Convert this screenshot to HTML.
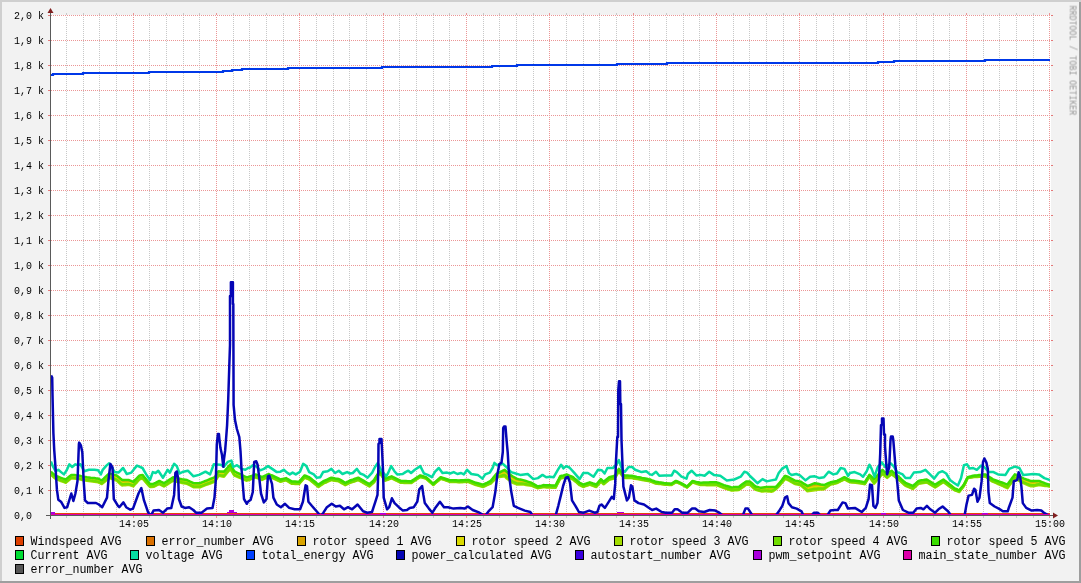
<!DOCTYPE html>
<html><head><meta charset="utf-8"><style>
html,body{margin:0;padding:0;background:#F2F2F2;}
svg{display:block;}
</style></head><body>
<svg width="1081" height="583" viewBox="0 0 1081 583" shape-rendering="crispEdges">
<defs>
<filter id="gray" x="0" y="0" width="100%" height="100%" filterUnits="userSpaceOnUse"><feColorMatrix type="saturate" values="0"/></filter>
<pattern id="hr" patternUnits="userSpaceOnUse" x="1" y="0" width="2" height="1"><rect x="0" y="0" width="1" height="1" fill="#EB9696"/></pattern>
<pattern id="vr" patternUnits="userSpaceOnUse" x="0" y="1" width="1" height="2"><rect x="0" y="0" width="1" height="1" fill="#EB9696"/></pattern>
<pattern id="vg" patternUnits="userSpaceOnUse" x="0" y="1" width="1" height="2"><rect x="0" y="0" width="1" height="1" fill="#C8C8C8"/></pattern>
</defs>
<rect x="0" y="0" width="1081" height="583" fill="#F2F2F2"/>
<rect x="0" y="0" width="1081" height="2" fill="#CFCFCF"/>
<rect x="0" y="0" width="2" height="583" fill="#CFCFCF"/>
<rect x="0" y="581" width="1081" height="2" fill="#9E9E9E"/>
<rect x="1079" y="2" width="2" height="581" fill="#9E9E9E"/>
<rect x="50" y="15" width="1001" height="500" fill="#FFFFFF"/>
<rect x="66" y="16" width="1" height="499" fill="url(#vg)"/>
<rect x="66" y="13" width="1" height="2" fill="#C8C8C8"/>
<rect x="66" y="516" width="1" height="2" fill="#C8C8C8"/>
<rect x="83" y="16" width="1" height="499" fill="url(#vg)"/>
<rect x="83" y="13" width="1" height="2" fill="#C8C8C8"/>
<rect x="83" y="516" width="1" height="2" fill="#C8C8C8"/>
<rect x="99" y="16" width="1" height="499" fill="url(#vg)"/>
<rect x="99" y="13" width="1" height="2" fill="#C8C8C8"/>
<rect x="99" y="516" width="1" height="2" fill="#C8C8C8"/>
<rect x="116" y="16" width="1" height="499" fill="url(#vg)"/>
<rect x="116" y="13" width="1" height="2" fill="#C8C8C8"/>
<rect x="116" y="516" width="1" height="2" fill="#C8C8C8"/>
<rect x="133" y="16" width="1" height="499" fill="url(#vr)"/>
<rect x="133" y="13" width="1" height="2" fill="#EB9696"/>
<rect x="133" y="516" width="1" height="2" fill="#EB9696"/>
<rect x="149" y="16" width="1" height="499" fill="url(#vg)"/>
<rect x="149" y="13" width="1" height="2" fill="#C8C8C8"/>
<rect x="149" y="516" width="1" height="2" fill="#C8C8C8"/>
<rect x="166" y="16" width="1" height="499" fill="url(#vg)"/>
<rect x="166" y="13" width="1" height="2" fill="#C8C8C8"/>
<rect x="166" y="516" width="1" height="2" fill="#C8C8C8"/>
<rect x="183" y="16" width="1" height="499" fill="url(#vg)"/>
<rect x="183" y="13" width="1" height="2" fill="#C8C8C8"/>
<rect x="183" y="516" width="1" height="2" fill="#C8C8C8"/>
<rect x="199" y="16" width="1" height="499" fill="url(#vg)"/>
<rect x="199" y="13" width="1" height="2" fill="#C8C8C8"/>
<rect x="199" y="516" width="1" height="2" fill="#C8C8C8"/>
<rect x="216" y="16" width="1" height="499" fill="url(#vr)"/>
<rect x="216" y="13" width="1" height="2" fill="#EB9696"/>
<rect x="216" y="516" width="1" height="2" fill="#EB9696"/>
<rect x="233" y="16" width="1" height="499" fill="url(#vg)"/>
<rect x="233" y="13" width="1" height="2" fill="#C8C8C8"/>
<rect x="233" y="516" width="1" height="2" fill="#C8C8C8"/>
<rect x="249" y="16" width="1" height="499" fill="url(#vg)"/>
<rect x="249" y="13" width="1" height="2" fill="#C8C8C8"/>
<rect x="249" y="516" width="1" height="2" fill="#C8C8C8"/>
<rect x="266" y="16" width="1" height="499" fill="url(#vg)"/>
<rect x="266" y="13" width="1" height="2" fill="#C8C8C8"/>
<rect x="266" y="516" width="1" height="2" fill="#C8C8C8"/>
<rect x="283" y="16" width="1" height="499" fill="url(#vg)"/>
<rect x="283" y="13" width="1" height="2" fill="#C8C8C8"/>
<rect x="283" y="516" width="1" height="2" fill="#C8C8C8"/>
<rect x="299" y="16" width="1" height="499" fill="url(#vr)"/>
<rect x="299" y="13" width="1" height="2" fill="#EB9696"/>
<rect x="299" y="516" width="1" height="2" fill="#EB9696"/>
<rect x="316" y="16" width="1" height="499" fill="url(#vg)"/>
<rect x="316" y="13" width="1" height="2" fill="#C8C8C8"/>
<rect x="316" y="516" width="1" height="2" fill="#C8C8C8"/>
<rect x="333" y="16" width="1" height="499" fill="url(#vg)"/>
<rect x="333" y="13" width="1" height="2" fill="#C8C8C8"/>
<rect x="333" y="516" width="1" height="2" fill="#C8C8C8"/>
<rect x="349" y="16" width="1" height="499" fill="url(#vg)"/>
<rect x="349" y="13" width="1" height="2" fill="#C8C8C8"/>
<rect x="349" y="516" width="1" height="2" fill="#C8C8C8"/>
<rect x="366" y="16" width="1" height="499" fill="url(#vg)"/>
<rect x="366" y="13" width="1" height="2" fill="#C8C8C8"/>
<rect x="366" y="516" width="1" height="2" fill="#C8C8C8"/>
<rect x="383" y="16" width="1" height="499" fill="url(#vr)"/>
<rect x="383" y="13" width="1" height="2" fill="#EB9696"/>
<rect x="383" y="516" width="1" height="2" fill="#EB9696"/>
<rect x="399" y="16" width="1" height="499" fill="url(#vg)"/>
<rect x="399" y="13" width="1" height="2" fill="#C8C8C8"/>
<rect x="399" y="516" width="1" height="2" fill="#C8C8C8"/>
<rect x="416" y="16" width="1" height="499" fill="url(#vg)"/>
<rect x="416" y="13" width="1" height="2" fill="#C8C8C8"/>
<rect x="416" y="516" width="1" height="2" fill="#C8C8C8"/>
<rect x="433" y="16" width="1" height="499" fill="url(#vg)"/>
<rect x="433" y="13" width="1" height="2" fill="#C8C8C8"/>
<rect x="433" y="516" width="1" height="2" fill="#C8C8C8"/>
<rect x="449" y="16" width="1" height="499" fill="url(#vg)"/>
<rect x="449" y="13" width="1" height="2" fill="#C8C8C8"/>
<rect x="449" y="516" width="1" height="2" fill="#C8C8C8"/>
<rect x="466" y="16" width="1" height="499" fill="url(#vr)"/>
<rect x="466" y="13" width="1" height="2" fill="#EB9696"/>
<rect x="466" y="516" width="1" height="2" fill="#EB9696"/>
<rect x="483" y="16" width="1" height="499" fill="url(#vg)"/>
<rect x="483" y="13" width="1" height="2" fill="#C8C8C8"/>
<rect x="483" y="516" width="1" height="2" fill="#C8C8C8"/>
<rect x="499" y="16" width="1" height="499" fill="url(#vg)"/>
<rect x="499" y="13" width="1" height="2" fill="#C8C8C8"/>
<rect x="499" y="516" width="1" height="2" fill="#C8C8C8"/>
<rect x="516" y="16" width="1" height="499" fill="url(#vg)"/>
<rect x="516" y="13" width="1" height="2" fill="#C8C8C8"/>
<rect x="516" y="516" width="1" height="2" fill="#C8C8C8"/>
<rect x="533" y="16" width="1" height="499" fill="url(#vg)"/>
<rect x="533" y="13" width="1" height="2" fill="#C8C8C8"/>
<rect x="533" y="516" width="1" height="2" fill="#C8C8C8"/>
<rect x="549" y="16" width="1" height="499" fill="url(#vr)"/>
<rect x="549" y="13" width="1" height="2" fill="#EB9696"/>
<rect x="549" y="516" width="1" height="2" fill="#EB9696"/>
<rect x="566" y="16" width="1" height="499" fill="url(#vg)"/>
<rect x="566" y="13" width="1" height="2" fill="#C8C8C8"/>
<rect x="566" y="516" width="1" height="2" fill="#C8C8C8"/>
<rect x="583" y="16" width="1" height="499" fill="url(#vg)"/>
<rect x="583" y="13" width="1" height="2" fill="#C8C8C8"/>
<rect x="583" y="516" width="1" height="2" fill="#C8C8C8"/>
<rect x="599" y="16" width="1" height="499" fill="url(#vg)"/>
<rect x="599" y="13" width="1" height="2" fill="#C8C8C8"/>
<rect x="599" y="516" width="1" height="2" fill="#C8C8C8"/>
<rect x="616" y="16" width="1" height="499" fill="url(#vg)"/>
<rect x="616" y="13" width="1" height="2" fill="#C8C8C8"/>
<rect x="616" y="516" width="1" height="2" fill="#C8C8C8"/>
<rect x="633" y="16" width="1" height="499" fill="url(#vr)"/>
<rect x="633" y="13" width="1" height="2" fill="#EB9696"/>
<rect x="633" y="516" width="1" height="2" fill="#EB9696"/>
<rect x="649" y="16" width="1" height="499" fill="url(#vg)"/>
<rect x="649" y="13" width="1" height="2" fill="#C8C8C8"/>
<rect x="649" y="516" width="1" height="2" fill="#C8C8C8"/>
<rect x="666" y="16" width="1" height="499" fill="url(#vg)"/>
<rect x="666" y="13" width="1" height="2" fill="#C8C8C8"/>
<rect x="666" y="516" width="1" height="2" fill="#C8C8C8"/>
<rect x="683" y="16" width="1" height="499" fill="url(#vg)"/>
<rect x="683" y="13" width="1" height="2" fill="#C8C8C8"/>
<rect x="683" y="516" width="1" height="2" fill="#C8C8C8"/>
<rect x="699" y="16" width="1" height="499" fill="url(#vg)"/>
<rect x="699" y="13" width="1" height="2" fill="#C8C8C8"/>
<rect x="699" y="516" width="1" height="2" fill="#C8C8C8"/>
<rect x="716" y="16" width="1" height="499" fill="url(#vr)"/>
<rect x="716" y="13" width="1" height="2" fill="#EB9696"/>
<rect x="716" y="516" width="1" height="2" fill="#EB9696"/>
<rect x="733" y="16" width="1" height="499" fill="url(#vg)"/>
<rect x="733" y="13" width="1" height="2" fill="#C8C8C8"/>
<rect x="733" y="516" width="1" height="2" fill="#C8C8C8"/>
<rect x="749" y="16" width="1" height="499" fill="url(#vg)"/>
<rect x="749" y="13" width="1" height="2" fill="#C8C8C8"/>
<rect x="749" y="516" width="1" height="2" fill="#C8C8C8"/>
<rect x="766" y="16" width="1" height="499" fill="url(#vg)"/>
<rect x="766" y="13" width="1" height="2" fill="#C8C8C8"/>
<rect x="766" y="516" width="1" height="2" fill="#C8C8C8"/>
<rect x="783" y="16" width="1" height="499" fill="url(#vg)"/>
<rect x="783" y="13" width="1" height="2" fill="#C8C8C8"/>
<rect x="783" y="516" width="1" height="2" fill="#C8C8C8"/>
<rect x="799" y="16" width="1" height="499" fill="url(#vr)"/>
<rect x="799" y="13" width="1" height="2" fill="#EB9696"/>
<rect x="799" y="516" width="1" height="2" fill="#EB9696"/>
<rect x="816" y="16" width="1" height="499" fill="url(#vg)"/>
<rect x="816" y="13" width="1" height="2" fill="#C8C8C8"/>
<rect x="816" y="516" width="1" height="2" fill="#C8C8C8"/>
<rect x="833" y="16" width="1" height="499" fill="url(#vg)"/>
<rect x="833" y="13" width="1" height="2" fill="#C8C8C8"/>
<rect x="833" y="516" width="1" height="2" fill="#C8C8C8"/>
<rect x="849" y="16" width="1" height="499" fill="url(#vg)"/>
<rect x="849" y="13" width="1" height="2" fill="#C8C8C8"/>
<rect x="849" y="516" width="1" height="2" fill="#C8C8C8"/>
<rect x="866" y="16" width="1" height="499" fill="url(#vg)"/>
<rect x="866" y="13" width="1" height="2" fill="#C8C8C8"/>
<rect x="866" y="516" width="1" height="2" fill="#C8C8C8"/>
<rect x="883" y="16" width="1" height="499" fill="url(#vr)"/>
<rect x="883" y="13" width="1" height="2" fill="#EB9696"/>
<rect x="883" y="516" width="1" height="2" fill="#EB9696"/>
<rect x="899" y="16" width="1" height="499" fill="url(#vg)"/>
<rect x="899" y="13" width="1" height="2" fill="#C8C8C8"/>
<rect x="899" y="516" width="1" height="2" fill="#C8C8C8"/>
<rect x="916" y="16" width="1" height="499" fill="url(#vg)"/>
<rect x="916" y="13" width="1" height="2" fill="#C8C8C8"/>
<rect x="916" y="516" width="1" height="2" fill="#C8C8C8"/>
<rect x="933" y="16" width="1" height="499" fill="url(#vg)"/>
<rect x="933" y="13" width="1" height="2" fill="#C8C8C8"/>
<rect x="933" y="516" width="1" height="2" fill="#C8C8C8"/>
<rect x="949" y="16" width="1" height="499" fill="url(#vg)"/>
<rect x="949" y="13" width="1" height="2" fill="#C8C8C8"/>
<rect x="949" y="516" width="1" height="2" fill="#C8C8C8"/>
<rect x="966" y="16" width="1" height="499" fill="url(#vr)"/>
<rect x="966" y="13" width="1" height="2" fill="#EB9696"/>
<rect x="966" y="516" width="1" height="2" fill="#EB9696"/>
<rect x="983" y="16" width="1" height="499" fill="url(#vg)"/>
<rect x="983" y="13" width="1" height="2" fill="#C8C8C8"/>
<rect x="983" y="516" width="1" height="2" fill="#C8C8C8"/>
<rect x="999" y="16" width="1" height="499" fill="url(#vg)"/>
<rect x="999" y="13" width="1" height="2" fill="#C8C8C8"/>
<rect x="999" y="516" width="1" height="2" fill="#C8C8C8"/>
<rect x="1016" y="16" width="1" height="499" fill="url(#vg)"/>
<rect x="1016" y="13" width="1" height="2" fill="#C8C8C8"/>
<rect x="1016" y="516" width="1" height="2" fill="#C8C8C8"/>
<rect x="1033" y="16" width="1" height="499" fill="url(#vg)"/>
<rect x="1033" y="13" width="1" height="2" fill="#C8C8C8"/>
<rect x="1033" y="516" width="1" height="2" fill="#C8C8C8"/>
<rect x="1049" y="16" width="1" height="499" fill="url(#vr)"/>
<rect x="1049" y="13" width="1" height="2" fill="#EB9696"/>
<rect x="1049" y="516" width="1" height="2" fill="#EB9696"/>
<rect x="51" y="515" width="1000" height="1" fill="url(#hr)"/>
<rect x="48" y="515" width="2" height="1" fill="#E57878"/>
<rect x="1051" y="515" width="2" height="1" fill="#E57878"/>
<rect x="51" y="490" width="1000" height="1" fill="url(#hr)"/>
<rect x="48" y="490" width="2" height="1" fill="#E57878"/>
<rect x="1051" y="490" width="2" height="1" fill="#E57878"/>
<rect x="51" y="465" width="1000" height="1" fill="url(#hr)"/>
<rect x="48" y="465" width="2" height="1" fill="#E57878"/>
<rect x="1051" y="465" width="2" height="1" fill="#E57878"/>
<rect x="51" y="440" width="1000" height="1" fill="url(#hr)"/>
<rect x="48" y="440" width="2" height="1" fill="#E57878"/>
<rect x="1051" y="440" width="2" height="1" fill="#E57878"/>
<rect x="51" y="415" width="1000" height="1" fill="url(#hr)"/>
<rect x="48" y="415" width="2" height="1" fill="#E57878"/>
<rect x="1051" y="415" width="2" height="1" fill="#E57878"/>
<rect x="51" y="390" width="1000" height="1" fill="url(#hr)"/>
<rect x="48" y="390" width="2" height="1" fill="#E57878"/>
<rect x="1051" y="390" width="2" height="1" fill="#E57878"/>
<rect x="51" y="365" width="1000" height="1" fill="url(#hr)"/>
<rect x="48" y="365" width="2" height="1" fill="#E57878"/>
<rect x="1051" y="365" width="2" height="1" fill="#E57878"/>
<rect x="51" y="340" width="1000" height="1" fill="url(#hr)"/>
<rect x="48" y="340" width="2" height="1" fill="#E57878"/>
<rect x="1051" y="340" width="2" height="1" fill="#E57878"/>
<rect x="51" y="315" width="1000" height="1" fill="url(#hr)"/>
<rect x="48" y="315" width="2" height="1" fill="#E57878"/>
<rect x="1051" y="315" width="2" height="1" fill="#E57878"/>
<rect x="51" y="290" width="1000" height="1" fill="url(#hr)"/>
<rect x="48" y="290" width="2" height="1" fill="#E57878"/>
<rect x="1051" y="290" width="2" height="1" fill="#E57878"/>
<rect x="51" y="265" width="1000" height="1" fill="url(#hr)"/>
<rect x="48" y="265" width="2" height="1" fill="#E57878"/>
<rect x="1051" y="265" width="2" height="1" fill="#E57878"/>
<rect x="51" y="240" width="1000" height="1" fill="url(#hr)"/>
<rect x="48" y="240" width="2" height="1" fill="#E57878"/>
<rect x="1051" y="240" width="2" height="1" fill="#E57878"/>
<rect x="51" y="215" width="1000" height="1" fill="url(#hr)"/>
<rect x="48" y="215" width="2" height="1" fill="#E57878"/>
<rect x="1051" y="215" width="2" height="1" fill="#E57878"/>
<rect x="51" y="190" width="1000" height="1" fill="url(#hr)"/>
<rect x="48" y="190" width="2" height="1" fill="#E57878"/>
<rect x="1051" y="190" width="2" height="1" fill="#E57878"/>
<rect x="51" y="165" width="1000" height="1" fill="url(#hr)"/>
<rect x="48" y="165" width="2" height="1" fill="#E57878"/>
<rect x="1051" y="165" width="2" height="1" fill="#E57878"/>
<rect x="51" y="140" width="1000" height="1" fill="url(#hr)"/>
<rect x="48" y="140" width="2" height="1" fill="#E57878"/>
<rect x="1051" y="140" width="2" height="1" fill="#E57878"/>
<rect x="51" y="115" width="1000" height="1" fill="url(#hr)"/>
<rect x="48" y="115" width="2" height="1" fill="#E57878"/>
<rect x="1051" y="115" width="2" height="1" fill="#E57878"/>
<rect x="51" y="90" width="1000" height="1" fill="url(#hr)"/>
<rect x="48" y="90" width="2" height="1" fill="#E57878"/>
<rect x="1051" y="90" width="2" height="1" fill="#E57878"/>
<rect x="51" y="65" width="1000" height="1" fill="url(#hr)"/>
<rect x="48" y="65" width="2" height="1" fill="#E57878"/>
<rect x="1051" y="65" width="2" height="1" fill="#E57878"/>
<rect x="51" y="40" width="1000" height="1" fill="url(#hr)"/>
<rect x="48" y="40" width="2" height="1" fill="#E57878"/>
<rect x="1051" y="40" width="2" height="1" fill="#E57878"/>
<rect x="51" y="15" width="1000" height="1" fill="url(#hr)"/>
<rect x="48" y="15" width="2" height="1" fill="#E57878"/>
<rect x="1051" y="15" width="2" height="1" fill="#E57878"/>
<clipPath id="cv"><rect x="51" y="15" width="999" height="500"/></clipPath>
<g clip-path="url(#cv)" shape-rendering="geometricPrecision" fill="none" stroke-linejoin="round" stroke-linecap="butt">
<rect x="51" y="513" width="999" height="1" fill="#E8400A" stroke="none"/>
<polyline points="50.9,472.6 52.5,474.0 54.0,475.4 55.6,476.7 57.5,477.4 59.3,478.2 60.9,478.7 62.5,479.3 64.1,479.9 65.7,480.5 67.6,479.0 69.4,477.4 71.3,475.9 72.9,476.0 74.5,476.2 76.2,476.3 77.8,476.4 79.6,476.9 81.5,477.3 83.3,477.7 85.2,478.0 87.0,478.3 88.8,478.5 90.7,478.8 92.5,479.0 94.4,479.2 96.2,479.5 98.1,479.7 99.9,480.6 101.8,481.5 103.7,479.8 105.5,478.2 107.3,476.5 109.2,474.8 111.0,475.4 112.9,475.9 114.8,476.4 116.6,477.0 118.5,478.6 120.3,480.1 122.2,481.6 123.8,481.6 125.4,481.5 127.0,481.5 128.6,481.5 130.2,482.0 131.7,482.6 133.3,483.1 134.9,481.5 136.5,479.9 138.1,478.2 139.7,476.6 142.5,476.0 144.0,477.8 145.5,479.6 147.0,481.3 148.5,483.1 150.0,484.9 151.8,484.8 153.7,484.6 155.6,483.7 157.4,482.8 159.3,481.9 160.8,482.6 162.4,483.4 163.9,484.2 165.4,483.2 167.0,482.2 168.5,481.2 170.0,480.2 171.6,479.3 173.1,478.3 175.0,478.7 176.8,479.2 178.7,479.7 180.4,480.0 182.0,480.3 183.7,480.6 185.3,480.9 187.0,481.2 188.6,482.0 190.2,482.8 191.9,483.6 193.5,484.4 195.1,484.4 196.8,484.4 198.4,484.4 200.0,484.5 201.8,483.7 203.7,482.9 205.5,482.2 207.1,481.6 208.6,481.0 210.2,480.4 211.7,479.8 213.2,479.2 214.8,478.6 216.7,475.6 218.5,472.6 220.3,472.8 222.2,473.0 224.0,473.2 225.6,471.3 227.2,469.4 228.9,467.5 230.5,465.7 232.3,469.1 234.2,472.5 235.8,473.3 237.4,474.0 239.1,474.8 240.7,475.6 242.5,476.4 244.4,477.3 246.2,478.2 248.1,477.8 250.0,477.5 251.9,476.7 253.7,476.0 255.6,475.3 257.2,476.0 258.8,476.7 260.4,477.4 262.0,478.1 263.6,477.2 265.2,476.4 266.9,475.6 268.5,474.8 270.4,475.5 272.2,476.3 274.1,477.0 275.7,477.8 277.3,478.6 278.9,479.4 280.5,480.2 282.4,479.7 284.2,479.3 286.1,478.8 287.9,479.9 289.8,481.0 291.6,482.1 293.5,482.2 295.3,482.3 297.1,482.4 299.0,482.5 300.9,480.4 302.7,478.2 304.6,476.1 306.1,476.7 307.7,477.3 309.2,477.9 310.8,479.1 312.3,480.4 313.9,481.6 315.4,482.8 316.9,484.1 318.5,485.3 320.3,484.1 322.2,482.8 324.0,481.6 325.9,480.8 327.7,480.0 329.5,479.2 331.4,478.4 333.2,478.7 335.1,479.1 336.9,479.4 338.8,479.7 340.4,480.7 342.1,481.6 343.7,482.6 345.3,483.5 346.9,482.7 348.4,482.0 350.0,481.2 351.7,480.7 353.3,480.1 355.0,479.5 356.6,479.0 358.3,478.4 360.2,479.5 362.0,480.6 363.9,481.6 365.7,482.7 367.6,483.8 369.4,484.8 371.0,483.4 372.5,482.1 374.1,480.7 375.9,477.6 377.8,474.5 379.6,471.4 381.5,474.0 383.3,476.6 385.2,479.2 386.8,478.7 388.4,478.1 390.0,477.5 391.6,476.9 393.2,477.7 394.7,478.4 396.2,479.2 397.8,479.9 399.3,480.7 400.9,481.5 402.6,481.5 404.3,481.6 406.0,481.7 407.7,481.8 409.4,481.8 411.1,481.9 412.6,480.9 414.2,479.9 415.7,478.9 417.2,477.9 418.8,476.9 420.3,475.9 422.2,476.4 424.0,477.0 425.9,477.6 427.8,479.2 429.6,480.9 431.4,482.5 433.3,484.1 435.1,482.5 437.0,480.9 438.9,479.3 440.7,477.6 442.2,478.1 443.8,478.7 445.4,479.2 446.9,479.7 448.4,480.2 450.0,480.7 451.6,480.7 453.1,480.8 454.6,480.8 456.2,480.9 457.8,480.9 459.3,481.0 460.8,480.9 462.4,480.8 463.9,480.8 465.4,480.7 467.0,480.7 468.5,480.6 470.4,481.3 472.2,482.0 474.0,482.7 475.9,483.5 477.8,483.9 479.6,484.4 481.4,484.8 483.3,485.3 485.1,484.4 487.0,483.5 488.9,482.6 490.7,481.7 492.6,479.5 494.4,477.3 496.3,475.2 498.0,474.4 499.6,473.7 501.3,473.1 502.9,472.4 504.6,471.7 506.2,473.2 507.9,474.6 509.5,475.9 511.1,477.3 512.9,478.4 514.8,479.4 516.6,480.3 518.5,480.7 520.3,481.0 522.1,481.3 524.0,481.7 525.9,482.2 527.7,482.7 529.5,483.2 531.4,483.7 533.0,484.5 534.6,485.4 536.3,486.2 537.9,487.0 539.7,486.6 541.6,486.2 543.4,485.7 545.0,485.8 546.7,485.8 548.4,485.9 550.0,486.0 551.9,486.1 553.7,486.1 555.6,486.2 557.1,483.1 558.7,480.1 560.2,477.0 561.8,476.5 563.5,476.1 565.1,475.6 566.7,475.1 568.3,475.8 569.9,476.5 571.5,477.2 573.1,477.9 574.7,479.3 576.4,480.7 578.0,482.1 579.6,483.5 581.5,484.4 583.3,485.3 584.9,484.7 586.5,484.2 588.2,483.6 589.8,483.0 591.4,483.6 593.0,484.2 594.7,484.8 596.3,485.3 597.8,483.5 599.4,481.7 600.9,479.8 603.7,482.5 605.5,481.0 607.4,479.5 609.2,477.9 611.1,477.5 612.9,477.0 614.8,476.5 616.8,473.1 618.9,469.6 620.6,471.8 622.3,474.0 624.0,476.1 625.9,476.2 627.7,476.3 629.5,476.4 631.4,476.5 633.2,476.8 635.1,477.1 636.9,477.5 638.8,477.8 640.4,478.1 642.0,478.5 643.6,478.8 645.2,479.1 646.8,479.4 648.4,479.7 650.0,480.0 651.9,480.8 653.7,481.6 655.6,482.3 657.3,482.5 659.0,482.8 660.7,483.0 662.3,483.2 664.0,483.4 665.7,483.6 667.6,483.8 669.4,484.0 671.3,484.1 672.8,483.2 674.4,482.2 675.9,481.3 677.4,481.9 679.0,482.5 680.5,483.1 682.1,484.1 683.8,485.0 685.4,485.9 687.0,486.8 688.9,485.0 690.7,483.2 692.6,481.3 694.5,481.9 696.3,482.4 698.1,482.9 700.0,483.4 701.7,483.4 703.4,483.4 705.0,483.3 706.7,483.3 708.4,483.2 710.1,483.2 711.7,483.2 713.4,483.2 715.0,483.2 716.6,483.2 718.5,483.9 720.3,484.6 722.1,485.3 724.0,486.0 725.9,486.6 727.7,487.2 729.5,487.8 731.4,488.3 733.2,488.2 735.1,488.1 736.9,488.0 738.8,487.9 740.6,486.5 742.5,485.1 744.4,483.8 746.2,482.4 748.1,482.5 750.0,482.6 751.9,484.3 753.7,485.9 755.6,487.5 757.4,488.0 759.3,488.4 761.1,488.9 763.0,488.7 764.8,488.4 766.7,488.2 768.2,488.3 769.8,488.3 771.3,488.4 772.8,488.3 774.4,487.9 775.9,487.6 777.8,485.6 779.6,483.6 781.5,481.3 783.3,479.0 785.2,476.8 787.0,477.5 788.9,478.2 790.7,479.3 792.6,480.3 794.4,481.4 796.0,481.8 797.6,482.1 799.3,482.5 800.9,482.9 802.5,484.1 804.1,485.2 805.8,486.4 807.4,487.6 809.2,487.0 811.1,486.4 812.9,485.9 814.8,485.3 816.3,485.5 817.9,485.6 819.4,485.8 820.9,486.0 822.5,486.2 824.0,486.3 825.6,485.5 827.2,484.7 828.9,483.8 830.5,483.0 832.1,482.6 833.8,482.3 835.4,481.9 837.0,481.6 838.9,480.6 840.7,479.7 842.5,478.8 844.4,477.8 846.3,478.8 848.1,479.8 850.0,480.8 851.9,481.0 853.7,481.2 855.5,481.3 857.4,481.5 859.2,481.8 861.1,482.2 862.9,482.5 864.8,482.9 866.3,480.4 867.9,477.9 869.4,475.4 871.0,477.1 872.5,478.8 874.1,480.4 875.8,478.5 877.4,476.7 879.1,474.8 880.7,472.9 882.4,471.0 883.9,472.4 885.5,473.8 887.0,475.2 888.5,474.0 890.1,472.9 891.6,471.8 893.2,473.1 894.9,474.5 896.5,475.9 898.1,477.2 900.0,478.8 901.8,480.4 903.6,482.1 905.5,483.7 907.4,484.5 909.2,485.3 911.0,486.1 912.9,486.9 914.8,485.2 916.6,483.5 918.5,481.8 920.2,481.5 921.8,481.2 923.5,480.9 925.1,480.7 926.8,480.4 928.5,481.4 930.1,482.4 931.8,483.4 933.4,484.5 935.1,485.5 936.8,484.5 938.4,483.4 940.1,482.4 941.7,481.3 943.4,480.3 945.0,481.5 946.7,482.8 948.4,484.0 950.0,485.3 951.5,486.5 953.1,487.7 954.6,488.9 956.2,489.5 957.7,490.1 959.3,490.7 960.8,488.8 962.4,486.9 963.9,485.0 965.8,481.3 967.6,477.5 969.4,477.1 971.3,476.6 973.1,476.2 974.6,476.1 976.1,475.9 977.6,475.8 979.2,475.6 980.7,475.5 982.2,475.3 983.7,475.2 985.2,475.0 987.1,476.2 988.9,477.4 990.8,478.7 992.6,479.9 994.5,480.6 996.3,481.3 998.1,482.0 1000.0,482.7 1001.9,483.4 1003.7,484.2 1005.5,484.9 1007.4,485.7 1009.2,483.2 1011.1,480.6 1012.9,478.1 1014.8,475.6 1016.3,476.4 1017.9,477.1 1019.4,477.8 1020.9,478.6 1022.5,479.3 1024.0,480.0 1025.6,480.7 1027.2,481.3 1028.9,481.9 1030.5,482.5 1032.2,482.5 1033.8,482.5 1035.5,482.4 1037.1,482.3 1038.8,482.1 1040.4,482.6 1042.0,483.1 1043.6,483.6 1045.2,484.1 1046.8,484.6 1048.4,485.0 1050.0,485.5" stroke="#D9A400" stroke-width="2.5"/>
<polyline points="50.9,473.4 52.5,474.7 54.0,476.1 55.6,477.5 57.5,478.2 59.3,478.9 60.9,479.5 62.5,480.1 64.1,480.7 65.7,481.3 67.6,479.8 69.4,478.3 71.3,476.7 72.9,476.9 74.5,477.0 76.2,477.2 77.8,477.3 79.6,477.7 81.5,478.2 83.3,478.6 85.2,478.9 87.0,479.1 88.8,479.4 90.7,479.7 92.5,479.9 94.4,480.1 96.2,480.4 98.1,480.6 99.9,481.5 101.8,482.4 103.7,480.8 105.5,479.2 107.3,477.6 109.2,476.0 111.0,476.5 112.9,477.1 114.8,477.7 116.6,478.3 118.5,479.9 120.3,481.5 122.2,483.0 123.8,482.9 125.4,482.8 127.0,482.8 128.6,482.7 130.2,483.2 131.7,483.7 133.3,484.3 134.9,482.6 136.5,480.9 138.1,479.2 139.7,477.5 142.5,476.9 144.0,478.7 145.5,480.4 147.0,482.2 148.5,483.9 150.0,485.6 151.8,485.5 153.7,485.4 155.6,484.5 157.4,483.6 159.3,482.7 160.8,483.5 162.4,484.2 163.9,485.0 165.4,484.0 167.0,483.1 168.5,482.1 170.0,481.1 171.6,480.1 173.1,479.1 175.0,479.6 176.8,480.1 178.7,480.6 180.4,480.9 182.0,481.2 183.7,481.5 185.3,481.8 187.0,482.1 188.6,482.9 190.2,483.8 191.9,484.6 193.5,485.4 195.1,485.4 196.8,485.5 198.4,485.5 200.0,485.5 201.8,484.7 203.7,484.0 205.5,483.3 207.1,482.7 208.6,482.1 210.2,481.5 211.7,480.9 213.2,480.3 214.8,479.7 216.7,476.7 218.5,473.7 220.3,474.0 222.2,474.2 224.0,474.4 225.6,472.5 227.2,470.6 228.9,468.7 230.5,466.8 232.3,470.2 234.2,473.6 235.8,474.3 237.4,475.0 239.1,475.8 240.7,476.5 242.5,477.4 244.4,478.2 246.2,479.1 248.1,478.7 250.0,478.3 251.9,477.5 253.7,476.8 255.6,476.1 257.2,476.7 258.8,477.4 260.4,478.1 262.0,478.8 263.6,477.9 265.2,477.1 266.9,476.3 268.5,475.5 270.4,476.2 272.2,476.9 274.1,477.7 275.7,478.4 277.3,479.2 278.9,480.0 280.5,480.8 282.4,480.3 284.2,479.8 286.1,479.4 287.9,480.5 289.8,481.6 291.6,482.7 293.5,482.8 295.3,482.9 297.1,483.0 299.0,483.1 300.9,480.9 302.7,478.8 304.6,476.7 306.1,477.3 307.7,477.9 309.2,478.5 310.8,479.7 312.3,481.0 313.9,482.2 315.4,483.4 316.9,484.7 318.5,485.9 320.3,484.7 322.2,483.4 324.0,482.2 325.9,481.4 327.7,480.6 329.5,479.8 331.4,479.0 333.2,479.3 335.1,479.6 336.9,480.0 338.8,480.3 340.4,481.3 342.1,482.2 343.7,483.2 345.3,484.1 346.9,483.3 348.4,482.6 350.0,481.8 351.7,481.2 353.3,480.7 355.0,480.1 356.6,479.6 358.3,479.0 360.2,480.1 362.0,481.1 363.9,482.2 365.7,483.3 367.6,484.4 369.4,485.4 371.0,484.0 372.5,482.7 374.1,481.3 375.9,478.2 377.8,475.0 379.6,471.9 381.5,474.5 383.3,477.2 385.2,479.8 386.8,479.2 388.4,478.6 390.0,478.0 391.6,477.4 393.2,478.2 394.7,478.9 396.2,479.7 397.8,480.4 399.3,481.2 400.9,481.9 402.6,482.0 404.3,482.1 406.0,482.1 407.7,482.2 409.4,482.3 411.1,482.3 412.6,481.3 414.2,480.3 415.7,479.3 417.2,478.3 418.8,477.3 420.3,476.2 422.2,476.8 424.0,477.4 425.9,478.0 427.8,479.6 429.6,481.2 431.4,482.8 433.3,484.4 435.1,482.8 437.0,481.2 438.9,479.6 440.7,478.0 442.2,478.5 443.8,479.0 445.4,479.6 446.9,480.1 448.4,480.6 450.0,481.1 451.6,481.2 453.1,481.2 454.6,481.3 456.2,481.3 457.8,481.4 459.3,481.4 460.8,481.4 462.4,481.3 463.9,481.3 465.4,481.2 467.0,481.2 468.5,481.1 470.4,481.8 472.2,482.6 474.0,483.3 475.9,484.0 477.8,484.5 479.6,485.0 481.4,485.4 483.3,485.9 485.1,485.0 487.0,484.1 488.9,483.2 490.7,482.4 492.6,480.3 494.4,478.2 496.3,476.1 498.0,475.5 499.6,474.9 501.3,474.4 502.9,473.8 504.6,473.3 506.2,474.9 507.9,476.2 509.5,477.6 511.1,478.9 512.9,479.9 514.8,480.9 516.6,481.8 518.5,482.0 520.3,482.3 522.1,482.5 524.0,482.7 525.9,483.1 527.7,483.6 529.5,484.0 531.4,484.4 533.0,485.2 534.6,485.9 536.3,486.7 537.9,487.5 539.7,487.1 541.6,486.6 543.4,486.2 545.0,486.3 546.7,486.4 548.4,486.5 550.0,486.6 551.9,486.6 553.7,486.7 555.6,486.8 557.1,483.7 558.7,480.6 560.2,477.6 561.8,477.1 563.5,476.6 565.1,476.2 566.7,475.7 568.3,476.4 569.9,477.1 571.5,477.8 573.1,478.5 574.7,479.9 576.4,481.3 578.0,482.7 579.6,484.1 581.5,485.0 583.3,485.9 584.9,485.3 586.5,484.8 588.2,484.2 589.8,483.6 591.4,484.2 593.0,484.8 594.7,485.4 596.3,485.9 597.8,484.1 599.4,482.3 600.9,480.4 603.7,483.1 605.5,481.6 607.4,480.1 609.2,478.6 611.1,478.1 612.9,477.6 614.8,477.2 616.8,473.7 618.9,470.3 620.6,472.4 622.3,474.6 624.0,476.7 625.9,476.8 627.7,476.9 629.5,477.0 631.4,477.0 633.2,477.4 635.1,477.7 636.9,478.0 638.8,478.3 640.4,478.7 642.0,479.0 643.6,479.3 645.2,479.6 646.8,479.9 648.4,480.2 650.0,480.5 651.9,481.2 653.7,482.0 655.6,482.7 657.3,482.9 659.0,483.2 660.7,483.4 662.3,483.6 664.0,483.8 665.7,484.0 667.6,484.2 669.4,484.3 671.3,484.4 672.8,483.5 674.4,482.5 675.9,481.6 677.4,482.2 679.0,482.8 680.5,483.4 682.1,484.3 683.8,485.2 685.4,486.1 687.0,487.1 688.9,485.3 690.7,483.5 692.6,481.7 694.5,482.3 696.3,482.9 698.1,483.4 700.0,484.0 701.7,484.0 703.4,484.0 705.0,484.0 706.7,484.0 708.4,483.9 710.1,483.9 711.7,483.9 713.4,483.9 715.0,483.9 716.6,483.9 718.5,484.6 720.3,485.3 722.1,486.0 724.0,486.8 725.9,487.4 727.7,487.9 729.5,488.5 731.4,489.1 733.2,489.0 735.1,488.9 736.9,488.8 738.8,488.7 740.6,487.3 742.5,485.9 744.4,484.6 746.2,483.2 748.1,483.3 750.0,483.5 751.9,485.1 753.7,486.7 755.6,488.4 757.4,488.8 759.3,489.3 761.1,489.8 763.0,489.6 764.8,489.5 766.7,489.3 768.2,489.4 769.8,489.5 771.3,489.6 772.8,489.4 774.4,488.8 775.9,488.2 777.8,486.2 779.6,484.3 781.5,482.0 783.3,479.8 785.2,477.6 787.0,478.3 788.9,479.0 790.7,480.1 792.6,481.2 794.4,482.3 796.0,482.6 797.6,483.0 799.3,483.4 800.9,483.8 802.5,485.1 804.1,486.4 805.8,487.6 807.4,488.9 809.2,488.4 811.1,488.0 812.9,487.5 814.8,487.1 816.3,487.1 817.9,487.1 819.4,487.2 820.9,487.2 822.5,487.3 824.0,487.4 825.6,486.4 827.2,485.5 828.9,484.5 830.5,483.6 832.1,483.2 833.8,482.8 835.4,482.5 837.0,482.1 838.9,481.2 840.7,480.2 842.5,479.3 844.4,478.4 846.3,479.4 848.1,480.3 850.0,481.3 851.9,481.5 853.7,481.7 855.5,481.8 857.4,482.0 859.2,482.3 861.1,482.6 862.9,483.0 864.8,483.3 866.3,480.8 867.9,478.4 869.4,475.9 871.0,477.8 872.5,479.7 874.1,481.6 875.8,479.7 877.4,477.8 879.1,475.9 880.7,474.0 882.4,472.1 883.9,473.4 885.5,474.8 887.0,476.1 888.5,475.0 890.1,473.8 891.6,472.7 893.2,474.0 894.9,475.3 896.5,476.7 898.1,478.0 900.0,479.6 901.8,481.2 903.6,482.8 905.5,484.4 907.4,485.2 909.2,486.0 911.0,486.8 912.9,487.6 914.8,485.9 916.6,484.2 918.5,482.5 920.2,482.2 921.8,482.0 923.5,481.7 925.1,481.4 926.8,481.1 928.5,482.1 930.1,483.1 931.8,484.2 933.4,485.2 935.1,486.2 936.8,485.2 938.4,484.1 940.1,483.1 941.7,482.0 943.4,480.9 945.0,482.2 946.7,483.4 948.4,484.6 950.0,485.8 951.5,487.0 953.1,488.2 954.6,489.4 956.2,490.0 957.7,490.6 959.3,491.2 960.8,489.2 962.4,487.3 963.9,485.3 965.8,481.5 967.6,477.8 969.4,477.3 971.3,476.9 973.1,476.5 974.6,476.4 976.1,476.3 977.6,476.2 979.2,476.0 980.7,475.9 982.2,475.8 983.7,475.7 985.2,475.5 987.1,476.8 988.9,478.0 990.8,479.3 992.6,480.5 994.5,481.2 996.3,482.0 998.1,482.7 1000.0,483.4 1001.9,484.2 1003.7,485.0 1005.5,485.8 1007.4,486.6 1009.2,484.1 1011.1,481.6 1012.9,479.1 1014.8,476.7 1016.3,477.4 1017.9,478.2 1019.4,479.0 1020.9,479.7 1022.5,480.5 1024.0,481.2 1025.6,481.9 1027.2,482.5 1028.9,483.2 1030.5,483.8 1032.2,483.9 1033.8,483.9 1035.5,483.6 1037.1,483.4 1038.8,483.2 1040.4,483.6 1042.0,484.0 1043.6,484.3 1045.2,484.7 1046.8,485.1 1048.4,485.5 1050.0,485.9" stroke="#DADA00" stroke-width="2.5"/>
<polyline points="50.9,474.7 52.5,476.1 54.0,477.5 55.6,478.9 57.5,479.6 59.3,480.4 60.9,481.0 62.5,481.6 64.1,482.2 65.7,482.8 67.6,481.3 69.4,479.8 71.3,478.3 72.9,478.4 74.5,478.5 76.2,478.7 77.8,478.8 79.6,479.3 81.5,479.7 83.3,480.2 85.2,480.5 87.0,480.7 88.8,481.0 90.7,481.3 92.5,481.5 94.4,481.8 96.2,482.0 98.1,482.3 99.9,483.2 101.8,484.1 103.7,482.6 105.5,481.0 107.3,479.5 109.2,478.0 111.0,478.6 112.9,479.3 114.8,480.0 116.6,480.6 118.5,482.3 120.3,484.1 122.2,485.4 123.8,485.3 125.4,485.2 127.0,485.0 128.6,484.9 130.2,485.3 131.7,485.8 133.3,486.3 134.9,484.5 136.5,482.8 138.1,481.0 139.7,479.3 142.5,478.6 144.0,480.2 145.5,481.9 147.0,483.6 148.5,485.3 150.0,487.0 151.8,486.9 153.7,486.8 155.6,485.9 157.4,485.0 159.3,484.1 160.8,484.9 162.4,485.7 163.9,486.5 165.4,485.6 167.0,484.6 168.5,483.6 170.0,482.7 171.6,481.7 173.1,480.7 175.0,481.2 176.8,481.8 178.7,482.3 180.4,482.6 182.0,482.9 183.7,483.2 185.3,483.5 187.0,483.9 188.6,484.7 190.2,485.5 191.9,486.4 193.5,487.2 195.1,487.3 196.8,487.3 198.4,487.3 200.0,487.4 201.8,486.6 203.7,485.9 205.5,485.2 207.1,484.6 208.6,484.0 210.2,483.5 211.7,482.9 213.2,482.3 214.8,481.7 216.7,478.8 218.5,475.8 220.3,476.1 222.2,476.4 224.0,476.7 225.6,474.7 227.2,472.8 228.9,470.8 230.5,468.9 232.3,472.2 234.2,475.5 235.8,476.2 237.4,476.9 239.1,477.6 240.7,478.2 242.5,479.1 244.4,479.9 246.2,480.7 248.1,480.2 250.0,479.7 251.9,478.9 253.7,478.2 255.6,477.4 257.2,478.1 258.8,478.7 260.4,479.4 262.0,480.0 263.6,479.2 265.2,478.4 266.9,477.5 268.5,476.7 270.4,477.4 272.2,478.1 274.1,478.8 275.7,479.5 277.3,480.3 278.9,481.0 280.5,481.8 282.4,481.3 284.2,480.9 286.1,480.4 287.9,481.5 289.8,482.6 291.6,483.7 293.5,483.8 295.3,483.9 297.1,484.0 299.0,484.1 300.9,482.0 302.7,479.9 304.6,477.7 306.1,478.3 307.7,478.9 309.2,479.5 310.8,480.8 312.3,482.0 313.9,483.2 315.4,484.5 316.9,485.7 318.5,486.9 320.3,485.7 322.2,484.5 324.0,483.2 325.9,482.5 327.7,481.7 329.5,480.9 331.4,480.1 333.2,480.4 335.1,480.7 336.9,481.0 338.8,481.4 340.4,482.3 342.1,483.3 343.7,484.2 345.3,485.2 346.9,484.4 348.4,483.6 350.0,482.9 351.7,482.3 353.3,481.8 355.0,481.2 356.6,480.6 358.3,480.1 360.2,481.2 362.0,482.2 363.9,483.3 365.7,484.4 367.6,485.4 369.4,486.5 371.0,485.1 372.5,483.7 374.1,482.3 375.9,479.2 377.8,476.1 379.6,472.9 381.5,475.5 383.3,478.1 385.2,480.7 386.8,480.1 388.4,479.5 390.0,478.9 391.6,478.3 393.2,479.1 394.7,479.8 396.2,480.5 397.8,481.3 399.3,482.0 400.9,482.8 402.6,482.8 404.3,482.9 406.0,482.9 407.7,483.0 409.4,483.0 411.1,483.1 412.6,482.1 414.2,481.0 415.7,480.0 417.2,479.0 418.8,478.0 420.3,476.9 422.2,477.5 424.0,478.1 425.9,478.6 427.8,480.2 429.6,481.8 431.4,483.4 433.3,485.0 435.1,483.4 437.0,481.8 438.9,480.2 440.7,478.7 442.2,479.2 443.8,479.7 445.4,480.3 446.9,480.8 448.4,481.3 450.0,481.9 451.6,481.9 453.1,482.0 454.6,482.1 456.2,482.1 457.8,482.2 459.3,482.3 460.8,482.2 462.4,482.2 463.9,482.1 465.4,482.1 467.0,482.1 468.5,482.0 470.4,482.8 472.2,483.5 474.0,484.3 475.9,485.0 477.8,485.5 479.6,486.0 481.4,486.5 483.3,487.0 485.1,486.1 487.0,485.2 488.9,484.3 490.7,483.6 492.6,481.7 494.4,479.8 496.3,477.9 498.0,477.4 499.6,477.0 501.3,476.8 502.9,476.5 504.6,476.2 506.2,477.9 507.9,479.2 509.5,480.5 511.1,481.8 512.9,482.8 514.8,483.7 516.6,484.4 518.5,484.5 520.3,484.5 522.1,484.6 524.0,484.6 525.9,484.9 527.7,485.2 529.5,485.4 531.4,485.7 533.0,486.4 534.6,487.0 536.3,487.7 537.9,488.3 539.7,487.9 541.6,487.5 543.4,487.1 545.0,487.2 546.7,487.4 548.4,487.5 550.0,487.6 551.9,487.7 553.7,487.7 555.6,487.8 557.1,484.8 558.7,481.7 560.2,478.6 561.8,478.2 563.5,477.7 565.1,477.2 566.7,476.7 568.3,477.5 569.9,478.2 571.5,478.9 573.1,479.6 574.7,481.0 576.4,482.4 578.0,483.8 579.6,485.2 581.5,486.1 583.3,487.0 584.9,486.4 586.5,485.9 588.2,485.3 589.8,484.7 591.4,485.3 593.0,485.9 594.7,486.5 596.3,487.0 597.8,485.2 599.4,483.4 600.9,481.5 603.7,484.3 605.5,482.7 607.4,481.2 609.2,479.7 611.1,479.2 612.9,478.7 614.8,478.3 616.8,474.8 618.9,471.4 620.6,473.6 622.3,475.7 624.0,477.8 625.9,477.9 627.7,477.9 629.5,478.0 631.4,478.0 633.2,478.4 635.1,478.7 636.9,479.0 638.8,479.3 640.4,479.6 642.0,479.9 643.6,480.2 645.2,480.5 646.8,480.7 648.4,481.0 650.0,481.3 651.9,482.1 653.7,482.8 655.6,483.5 657.3,483.7 659.0,483.9 660.7,484.1 662.3,484.3 664.0,484.5 665.7,484.7 667.6,484.8 669.4,484.9 671.3,485.1 672.8,484.1 674.4,483.1 675.9,482.1 677.4,482.7 679.0,483.3 680.5,483.9 682.1,484.8 683.8,485.7 685.4,486.6 687.0,487.5 688.9,485.8 690.7,484.1 692.6,482.4 694.5,483.0 696.3,483.7 698.1,484.3 700.0,484.9 701.7,485.0 703.4,485.1 705.0,485.1 706.7,485.2 708.4,485.2 710.1,485.1 711.7,485.2 713.4,485.2 715.0,485.2 716.6,485.2 718.5,485.9 720.3,486.7 722.1,487.4 724.0,488.1 725.9,488.7 727.7,489.3 729.5,489.9 731.4,490.5 733.2,490.4 735.1,490.3 736.9,490.2 738.8,490.1 740.6,488.8 742.5,487.4 744.4,486.1 746.2,484.7 748.1,484.8 750.0,485.0 751.9,486.6 753.7,488.3 755.6,489.9 757.4,490.4 759.3,490.9 761.1,491.4 763.0,491.4 764.8,491.3 766.7,491.2 768.2,491.4 769.8,491.6 771.3,491.8 772.8,491.4 774.4,490.3 775.9,489.2 777.8,487.3 779.6,485.5 781.5,483.3 783.3,481.2 785.2,479.0 787.0,479.7 788.9,480.5 790.7,481.6 792.6,482.7 794.4,483.8 796.0,484.2 797.6,484.6 799.3,484.9 800.9,485.5 802.5,486.9 804.1,488.4 805.8,489.8 807.4,491.2 809.2,491.0 811.1,490.7 812.9,490.5 814.8,490.2 816.3,490.0 817.9,489.8 819.4,489.6 820.9,489.5 822.5,489.4 824.0,489.2 825.6,488.1 827.2,486.9 828.9,485.8 830.5,484.6 832.1,484.2 833.8,483.9 835.4,483.5 837.0,483.1 838.9,482.2 840.7,481.2 842.5,480.3 844.4,479.3 846.3,480.3 848.1,481.3 850.0,482.2 851.9,482.4 853.7,482.6 855.5,482.7 857.4,482.9 859.2,483.2 861.1,483.5 862.9,483.8 864.8,484.2 866.3,481.7 867.9,479.2 869.4,476.7 871.0,479.0 872.5,481.4 874.1,483.7 875.8,481.8 877.4,479.8 879.1,477.9 880.7,475.9 882.4,474.0 883.9,475.3 885.5,476.6 887.0,477.9 888.5,476.7 890.1,475.5 891.6,474.3 893.2,475.5 894.9,476.8 896.5,478.1 898.1,479.4 900.0,480.9 901.8,482.5 903.6,484.2 905.5,485.8 907.4,486.6 909.2,487.4 911.0,488.2 912.9,489.0 914.8,487.3 916.6,485.6 918.5,483.8 920.2,483.6 921.8,483.3 923.5,483.0 925.1,482.7 926.8,482.4 928.5,483.4 930.1,484.5 931.8,485.5 933.4,486.5 935.1,487.5 936.8,486.5 938.4,485.4 940.1,484.3 941.7,483.2 943.4,482.1 945.0,483.3 946.7,484.5 948.4,485.7 950.0,486.9 951.5,488.0 953.1,489.2 954.6,490.3 956.2,490.9 957.7,491.4 959.3,492.0 960.8,490.0 962.4,488.0 963.9,486.0 965.8,482.1 967.6,478.2 969.4,477.8 971.3,477.5 973.1,477.1 974.6,477.1 976.1,477.0 977.6,476.9 979.2,476.8 980.7,476.7 982.2,476.6 983.7,476.6 985.2,476.5 987.1,477.8 988.9,479.1 990.8,480.4 992.6,481.6 994.5,482.4 996.3,483.2 998.1,484.0 1000.0,484.8 1001.9,485.6 1003.7,486.5 1005.5,487.3 1007.4,488.2 1009.2,485.7 1011.1,483.3 1012.9,480.9 1014.8,478.5 1016.3,479.3 1017.9,480.1 1019.4,481.0 1020.9,481.8 1022.5,482.6 1024.0,483.4 1025.6,484.1 1027.2,484.8 1028.9,485.5 1030.5,486.2 1032.2,486.3 1033.8,486.3 1035.5,485.9 1037.1,485.5 1038.8,485.0 1040.4,485.3 1042.0,485.5 1043.6,485.7 1045.2,485.9 1046.8,486.1 1048.4,486.3 1050.0,486.5" stroke="#A2DD00" stroke-width="2.5"/>
<polyline points="50.9,474.1 52.5,475.5 54.0,476.9 55.6,478.3 57.5,479.0 59.3,479.7 60.9,480.3 62.5,480.9 64.1,481.5 65.7,482.1 67.6,480.6 69.4,479.1 71.3,477.6 72.9,477.7 74.5,477.9 76.2,478.0 77.8,478.1 79.6,478.6 81.5,479.0 83.3,479.5 85.2,479.8 87.0,480.0 88.8,480.3 90.7,480.6 92.5,480.8 94.4,481.0 96.2,481.3 98.1,481.5 99.9,482.4 101.8,483.4 103.7,481.8 105.5,480.2 107.3,478.6 109.2,477.1 111.0,477.7 112.9,478.3 114.8,478.9 116.6,479.6 118.5,481.3 120.3,482.9 122.2,484.3 123.8,484.2 125.4,484.1 127.0,484.0 128.6,483.9 130.2,484.4 131.7,484.9 133.3,485.4 134.9,483.7 136.5,481.9 138.1,480.2 139.7,478.5 142.5,477.8 144.0,479.5 145.5,481.3 147.0,483.0 148.5,484.7 150.0,486.4 151.8,486.3 153.7,486.2 155.6,485.3 157.4,484.4 159.3,483.5 160.8,484.3 162.4,485.1 163.9,485.9 165.4,484.9 167.0,483.9 168.5,482.9 170.0,482.0 171.6,481.0 173.1,480.0 175.0,480.5 176.8,481.0 178.7,481.5 180.4,481.8 182.0,482.2 183.7,482.5 185.3,482.8 187.0,483.1 188.6,483.9 190.2,484.8 191.9,485.6 193.5,486.4 195.1,486.4 196.8,486.5 198.4,486.5 200.0,486.5 201.8,485.8 203.7,485.1 205.5,484.3 207.1,483.7 208.6,483.2 210.2,482.6 211.7,482.0 213.2,481.4 214.8,480.8 216.7,477.8 218.5,474.9 220.3,475.2 222.2,475.4 224.0,475.7 225.6,473.8 227.2,471.8 228.9,469.9 230.5,467.9 232.3,471.3 234.2,474.6 235.8,475.3 237.4,476.1 239.1,476.8 240.7,477.5 242.5,478.3 244.4,479.1 246.2,480.0 248.1,479.5 250.0,479.1 251.9,478.3 253.7,477.6 255.6,476.8 257.2,477.5 258.8,478.2 260.4,478.8 262.0,479.5 263.6,478.6 265.2,477.8 266.9,477.0 268.5,476.1 270.4,476.8 272.2,477.6 274.1,478.3 275.7,479.1 277.3,479.8 278.9,480.6 280.5,481.3 282.4,480.9 284.2,480.4 286.1,479.9 287.9,481.0 289.8,482.1 291.6,483.2 293.5,483.4 295.3,483.5 297.1,483.6 299.0,483.7 300.9,481.5 302.7,479.4 304.6,477.3 306.1,477.9 307.7,478.5 309.2,479.1 310.8,480.3 312.3,481.5 313.9,482.8 315.4,484.0 316.9,485.2 318.5,486.5 320.3,485.2 322.2,484.0 324.0,482.8 325.9,482.0 327.7,481.2 329.5,480.4 331.4,479.6 333.2,479.9 335.1,480.2 336.9,480.6 338.8,480.9 340.4,481.8 342.1,482.8 343.7,483.7 345.3,484.7 346.9,483.9 348.4,483.2 350.0,482.4 351.7,481.8 353.3,481.3 355.0,480.7 356.6,480.2 358.3,479.6 360.2,480.7 362.0,481.7 363.9,482.8 365.7,483.9 367.6,485.0 369.4,486.0 371.0,484.6 372.5,483.2 374.1,481.9 375.9,478.7 377.8,475.6 379.6,472.5 381.5,475.1 383.3,477.7 385.2,480.3 386.8,479.7 388.4,479.1 390.0,478.5 391.6,477.9 393.2,478.7 394.7,479.4 396.2,480.2 397.8,480.9 399.3,481.6 400.9,482.4 402.6,482.4 404.3,482.5 406.0,482.6 407.7,482.6 409.4,482.7 411.1,482.7 412.6,481.7 414.2,480.7 415.7,479.7 417.2,478.7 418.8,477.6 420.3,476.6 422.2,477.2 424.0,477.8 425.9,478.3 427.8,479.9 429.6,481.5 431.4,483.1 433.3,484.7 435.1,483.1 437.0,481.6 438.9,480.0 440.7,478.4 442.2,478.9 443.8,479.4 445.4,479.9 446.9,480.5 448.4,481.0 450.0,481.5 451.6,481.6 453.1,481.6 454.6,481.7 456.2,481.8 457.8,481.8 459.3,481.9 460.8,481.8 462.4,481.8 463.9,481.8 465.4,481.7 467.0,481.7 468.5,481.6 470.4,482.4 472.2,483.1 474.0,483.8 475.9,484.6 477.8,485.0 479.6,485.5 481.4,486.0 483.3,486.5 485.1,485.6 487.0,484.7 488.9,483.8 490.7,483.0 492.6,481.1 494.4,479.1 496.3,477.1 498.0,476.6 499.6,476.1 501.3,475.7 502.9,475.3 504.6,474.9 506.2,476.5 507.9,477.9 509.5,479.2 511.1,480.5 512.9,481.5 514.8,482.5 516.6,483.2 518.5,483.4 520.3,483.5 522.1,483.6 524.0,483.8 525.9,484.1 527.7,484.4 529.5,484.8 531.4,485.1 533.0,485.8 534.6,486.5 536.3,487.2 537.9,487.9 539.7,487.5 541.6,487.1 543.4,486.7 545.0,486.8 546.7,486.9 548.4,487.0 550.0,487.1 551.9,487.2 553.7,487.3 555.6,487.4 557.1,484.3 558.7,481.2 560.2,478.2 561.8,477.7 563.5,477.2 565.1,476.7 566.7,476.3 568.3,477.0 569.9,477.7 571.5,478.4 573.1,479.1 574.7,480.5 576.4,481.9 578.0,483.3 579.6,484.7 581.5,485.6 583.3,486.5 584.9,485.9 586.5,485.4 588.2,484.8 589.8,484.2 591.4,484.8 593.0,485.4 594.7,486.0 596.3,486.5 597.8,484.7 599.4,482.9 600.9,481.1 603.7,483.8 605.5,482.2 607.4,480.7 609.2,479.2 611.1,478.7 612.9,478.3 614.8,477.8 616.8,474.3 618.9,470.9 620.6,473.1 622.3,475.2 624.0,477.3 625.9,477.4 627.7,477.5 629.5,477.5 631.4,477.6 633.2,477.9 635.1,478.2 636.9,478.5 638.8,478.9 640.4,479.2 642.0,479.5 643.6,479.8 645.2,480.1 646.8,480.4 648.4,480.7 650.0,481.0 651.9,481.7 653.7,482.4 655.6,483.2 657.3,483.4 659.0,483.6 660.7,483.8 662.3,484.0 664.0,484.2 665.7,484.4 667.6,484.5 669.4,484.6 671.3,484.8 672.8,483.8 674.4,482.9 675.9,481.9 677.4,482.5 679.0,483.1 680.5,483.7 682.1,484.6 683.8,485.5 685.4,486.4 687.0,487.3 688.9,485.6 690.7,483.8 692.6,482.1 694.5,482.7 696.3,483.3 698.1,483.9 700.0,484.5 701.7,484.6 703.4,484.6 705.0,484.6 706.7,484.7 708.4,484.6 710.1,484.6 711.7,484.6 713.4,484.6 715.0,484.6 716.6,484.6 718.5,485.4 720.3,486.1 722.1,486.8 724.0,487.5 725.9,488.1 727.7,488.7 729.5,489.3 731.4,489.9 733.2,489.8 735.1,489.7 736.9,489.6 738.8,489.5 740.6,488.1 742.5,486.8 744.4,485.4 746.2,484.1 748.1,484.2 750.0,484.3 751.9,485.9 753.7,487.6 755.6,489.3 757.4,489.7 759.3,490.2 761.1,490.7 763.0,490.6 764.8,490.5 766.7,490.4 768.2,490.5 769.8,490.7 771.3,490.8 772.8,490.5 774.4,489.6 775.9,488.7 777.8,486.8 779.6,484.9 781.5,482.7 783.3,480.5 785.2,478.4 787.0,479.1 788.9,479.8 790.7,480.9 792.6,482.0 794.4,483.1 796.0,483.5 797.6,483.9 799.3,484.2 800.9,484.8 802.5,486.1 804.1,487.5 805.8,488.8 807.4,490.2 809.2,489.9 811.1,489.5 812.9,489.1 814.8,488.8 816.3,488.7 817.9,488.6 819.4,488.5 820.9,488.5 822.5,488.5 824.0,488.4 825.6,487.3 827.2,486.3 828.9,485.2 830.5,484.1 832.1,483.8 833.8,483.4 835.4,483.0 837.0,482.7 838.9,481.7 840.7,480.8 842.5,479.8 844.4,478.9 846.3,479.9 848.1,480.9 850.0,481.8 851.9,482.0 853.7,482.2 855.5,482.3 857.4,482.5 859.2,482.8 861.1,483.1 862.9,483.5 864.8,483.8 866.3,481.3 867.9,478.8 869.4,476.3 871.0,478.5 872.5,480.6 874.1,482.8 875.8,480.8 877.4,478.9 879.1,477.0 880.7,475.1 882.4,473.1 883.9,474.4 885.5,475.8 887.0,477.1 888.5,475.9 890.1,474.7 891.6,473.5 893.2,474.9 894.9,476.2 896.5,477.5 898.1,478.8 900.0,480.3 901.8,481.9 903.6,483.6 905.5,485.2 907.4,486.0 909.2,486.8 911.0,487.6 912.9,488.4 914.8,486.7 916.6,485.0 918.5,483.3 920.2,483.0 921.8,482.7 923.5,482.4 925.1,482.1 926.8,481.8 928.5,482.9 930.1,483.9 931.8,484.9 933.4,485.9 935.1,486.9 936.8,485.9 938.4,484.8 940.1,483.7 941.7,482.7 943.4,481.6 945.0,482.8 946.7,484.0 948.4,485.2 950.0,486.4 951.5,487.6 953.1,488.8 954.6,489.9 956.2,490.5 957.7,491.1 959.3,491.6 960.8,489.7 962.4,487.7 963.9,485.7 965.8,481.8 967.6,478.0 969.4,477.6 971.3,477.2 973.1,476.9 974.6,476.8 976.1,476.7 977.6,476.6 979.2,476.5 980.7,476.4 982.2,476.3 983.7,476.2 985.2,476.1 987.1,477.3 988.9,478.6 990.8,479.9 992.6,481.1 994.5,481.9 996.3,482.7 998.1,483.4 1000.0,484.2 1001.9,485.0 1003.7,485.8 1005.5,486.6 1007.4,487.4 1009.2,485.0 1011.1,482.6 1012.9,480.1 1014.8,477.7 1016.3,478.5 1017.9,479.3 1019.4,480.1 1020.9,480.9 1022.5,481.6 1024.0,482.4 1025.6,483.1 1027.2,483.8 1028.9,484.5 1030.5,485.1 1032.2,485.2 1033.8,485.2 1035.5,484.9 1037.1,484.5 1038.8,484.2 1040.4,484.5 1042.0,484.8 1043.6,485.1 1045.2,485.4 1046.8,485.6 1048.4,485.9 1050.0,486.2" stroke="#70DD00" stroke-width="2.5"/>
<polyline points="50.9,471.7 52.5,473.1 54.0,474.4 55.6,475.8 57.5,476.5 59.3,477.2 60.9,477.8 62.5,478.4 64.1,478.9 65.7,479.5 67.6,478.0 69.4,476.4 71.3,474.9 72.9,475.0 74.5,475.1 76.2,475.3 77.8,475.4 79.6,475.8 81.5,476.3 83.3,476.7 85.2,476.9 87.0,477.2 88.8,477.4 90.7,477.7 92.5,477.9 94.4,478.1 96.2,478.4 98.1,478.6 99.9,479.5 101.8,480.4 103.7,478.7 105.5,476.9 107.3,475.2 109.2,473.5 111.0,474.0 112.9,474.4 114.8,474.9 116.6,475.4 118.5,476.9 120.3,478.5 122.2,480.0 123.8,480.0 125.4,480.0 127.0,480.0 128.6,480.0 130.2,480.6 131.7,481.2 133.3,481.8 134.9,480.2 136.5,478.6 138.1,477.0 139.7,475.4 142.5,474.9 144.0,476.7 145.5,478.5 147.0,480.4 148.5,482.2 150.0,484.0 151.8,483.9 153.7,483.7 155.6,482.8 157.4,481.8 159.3,480.9 160.8,481.7 162.4,482.4 163.9,483.2 165.4,482.2 167.0,481.2 168.5,480.2 170.0,479.2 171.6,478.2 173.1,477.2 175.0,477.7 176.8,478.1 178.7,478.6 180.4,478.9 182.0,479.2 183.7,479.4 185.3,479.7 187.0,480.0 188.6,480.8 190.2,481.6 191.9,482.4 193.5,483.2 195.1,483.2 196.8,483.2 198.4,483.2 200.0,483.2 201.8,482.4 203.7,481.7 205.5,480.9 207.1,480.3 208.6,479.7 210.2,479.0 211.7,478.4 213.2,477.8 214.8,477.2 216.7,474.2 218.5,471.2 220.3,471.4 222.2,471.5 224.0,471.7 225.6,469.9 227.2,468.0 228.9,466.1 230.5,464.3 232.3,467.8 234.2,471.2 235.8,472.0 237.4,472.8 239.1,473.6 240.7,474.4 242.5,475.3 244.4,476.3 246.2,477.2 248.1,476.9 250.0,476.5 251.9,475.8 253.7,475.1 255.6,474.4 257.2,475.1 258.8,475.8 260.4,476.5 262.0,477.2 263.6,476.4 265.2,475.6 266.9,474.8 268.5,474.0 270.4,474.8 272.2,475.5 274.1,476.3 275.7,477.1 277.3,477.9 278.9,478.7 280.5,479.5 282.4,479.0 284.2,478.6 286.1,478.1 287.9,479.2 289.8,480.3 291.6,481.4 293.5,481.5 295.3,481.6 297.1,481.7 299.0,481.8 300.9,479.7 302.7,477.5 304.6,475.4 306.1,476.0 307.7,476.6 309.2,477.2 310.8,478.4 312.3,479.7 313.9,480.9 315.4,482.1 316.9,483.4 318.5,484.6 320.3,483.4 322.2,482.1 324.0,480.9 325.9,480.1 327.7,479.3 329.5,478.5 331.4,477.7 333.2,478.0 335.1,478.4 336.9,478.7 338.8,479.0 340.4,479.9 342.1,480.9 343.7,481.9 345.3,482.8 346.9,482.0 348.4,481.3 350.0,480.5 351.7,479.9 353.3,479.4 355.0,478.8 356.6,478.3 358.3,477.7 360.2,478.8 362.0,479.8 363.9,480.9 365.7,482.0 367.6,483.0 369.4,484.1 371.0,482.7 372.5,481.4 374.1,480.0 375.9,476.9 377.8,473.8 379.6,470.7 381.5,473.3 383.3,476.0 385.2,478.6 386.8,478.0 388.4,477.5 390.0,476.9 391.6,476.3 393.2,477.1 394.7,477.8 396.2,478.6 397.8,479.4 399.3,480.1 400.9,480.9 402.6,481.0 404.3,481.1 406.0,481.1 407.7,481.2 409.4,481.3 411.1,481.4 412.6,480.4 414.2,479.4 415.7,478.4 417.2,477.4 418.8,476.4 420.3,475.4 422.2,476.0 424.0,476.6 425.9,477.2 427.8,478.8 429.6,480.4 431.4,482.1 433.3,483.7 435.1,482.1 437.0,480.4 438.9,478.8 440.7,477.2 442.2,477.7 443.8,478.2 445.4,478.7 446.9,479.2 448.4,479.7 450.0,480.2 451.6,480.2 453.1,480.3 454.6,480.3 456.2,480.3 457.8,480.4 459.3,480.4 460.8,480.3 462.4,480.3 463.9,480.2 465.4,480.1 467.0,480.1 468.5,480.0 470.4,480.7 472.2,481.4 474.0,482.1 475.9,482.8 477.8,483.2 479.6,483.7 481.4,484.2 483.3,484.6 485.1,483.7 487.0,482.8 488.9,481.8 490.7,480.9 492.6,478.6 494.4,476.3 496.3,474.0 498.0,473.2 499.6,472.3 501.3,471.5 502.9,470.6 504.6,469.8 506.2,471.2 507.9,472.6 509.5,474.0 511.1,475.4 512.9,476.5 514.8,477.5 516.6,478.6 518.5,479.1 520.3,479.5 522.1,479.9 524.0,480.4 525.9,481.0 527.7,481.6 529.5,482.2 531.4,482.8 533.0,483.7 534.6,484.6 536.3,485.6 537.9,486.5 539.7,486.0 541.6,485.6 543.4,485.1 545.0,485.2 546.7,485.2 548.4,485.2 550.0,485.3 551.9,485.4 553.7,485.4 555.6,485.5 557.1,482.4 558.7,479.4 560.2,476.3 561.8,475.8 563.5,475.4 565.1,474.9 566.7,474.4 568.3,475.1 569.9,475.8 571.5,476.5 573.1,477.2 574.7,478.6 576.4,480.0 578.0,481.4 579.6,482.8 581.5,483.7 583.3,484.6 584.9,484.0 586.5,483.5 588.2,482.9 589.8,482.3 591.4,482.9 593.0,483.5 594.7,484.0 596.3,484.6 597.8,482.8 599.4,480.9 600.9,479.1 603.7,481.8 605.5,480.3 607.4,478.7 609.2,477.2 611.1,476.7 612.9,476.3 614.8,475.8 616.8,472.4 618.9,468.9 620.6,471.1 622.3,473.2 624.0,475.4 625.9,475.5 627.7,475.6 629.5,475.7 631.4,475.8 633.2,476.1 635.1,476.5 636.9,476.9 638.8,477.2 640.4,477.5 642.0,477.9 643.6,478.2 645.2,478.5 646.8,478.8 648.4,479.2 650.0,479.5 651.9,480.3 653.7,481.0 655.6,481.8 657.3,482.0 659.0,482.3 660.7,482.5 662.3,482.7 664.0,483.0 665.7,483.2 667.6,483.4 669.4,483.5 671.3,483.7 672.8,482.8 674.4,481.8 675.9,480.9 677.4,481.5 679.0,482.2 680.5,482.8 682.1,483.7 683.8,484.6 685.4,485.6 687.0,486.5 688.9,484.6 690.7,482.8 692.6,480.9 694.5,481.4 696.3,481.9 698.1,482.3 700.0,482.8 701.7,482.7 703.4,482.6 705.0,482.6 706.7,482.5 708.4,482.4 710.1,482.3 711.7,482.3 713.4,482.3 715.0,482.3 716.6,482.3 718.5,483.0 720.3,483.7 722.1,484.4 724.0,485.1 725.9,485.7 727.7,486.2 729.5,486.8 731.4,487.4 733.2,487.3 735.1,487.1 736.9,487.0 738.8,486.9 740.6,485.5 742.5,484.1 744.4,482.8 746.2,481.4 748.1,481.5 750.0,481.6 751.9,483.2 753.7,484.9 755.6,486.5 757.4,486.9 759.3,487.4 761.1,487.8 763.0,487.5 764.8,487.2 766.7,486.9 768.2,486.9 769.8,486.9 771.3,486.9 772.8,486.9 774.4,486.9 775.9,486.9 777.8,484.9 779.6,482.8 781.5,480.5 783.3,478.1 785.2,475.8 787.0,476.5 788.9,477.2 790.7,478.3 792.6,479.3 794.4,480.4 796.0,480.8 797.6,481.1 799.3,481.4 800.9,481.8 802.5,482.9 804.1,483.9 805.8,484.9 807.4,486.0 809.2,485.3 811.1,484.6 812.9,483.9 814.8,483.2 816.3,483.5 817.9,483.8 819.4,484.1 820.9,484.5 822.5,484.8 824.0,485.1 825.6,484.4 827.2,483.7 828.9,483.0 830.5,482.3 832.1,481.9 833.8,481.6 835.4,481.2 837.0,480.9 838.9,480.0 840.7,479.0 842.5,478.1 844.4,477.2 846.3,478.2 848.1,479.2 850.0,480.2 851.9,480.4 853.7,480.5 855.5,480.7 857.4,480.9 859.2,481.2 861.1,481.6 862.9,481.9 864.8,482.3 866.3,479.8 867.9,477.4 869.4,474.9 871.0,476.3 872.5,477.6 874.1,479.0 875.8,477.2 877.4,475.3 879.1,473.5 880.7,471.6 882.4,469.8 883.9,471.2 885.5,472.6 887.0,474.0 888.5,472.9 890.1,471.8 891.6,470.7 893.2,472.1 894.9,473.5 896.5,474.9 898.1,476.3 900.0,477.9 901.8,479.6 903.6,481.2 905.5,482.8 907.4,483.6 909.2,484.4 911.0,485.2 912.9,486.0 914.8,484.3 916.6,482.6 918.5,480.9 920.2,480.6 921.8,480.3 923.5,480.1 925.1,479.8 926.8,479.5 928.5,480.5 930.1,481.5 931.8,482.6 933.4,483.6 935.1,484.6 936.8,483.6 938.4,482.6 940.1,481.5 941.7,480.5 943.4,479.5 945.0,480.8 946.7,482.1 948.4,483.3 950.0,484.6 951.5,485.8 953.1,487.1 954.6,488.3 956.2,488.9 957.7,489.6 959.3,490.2 960.8,488.3 962.4,486.5 963.9,484.6 965.8,480.9 967.6,477.2 969.4,476.7 971.3,476.3 973.1,475.8 974.6,475.6 976.1,475.4 977.6,475.3 979.2,475.1 980.7,474.9 982.2,474.8 983.7,474.6 985.2,474.4 987.1,475.6 988.9,476.8 990.8,477.9 992.6,479.1 994.5,479.8 996.3,480.5 998.1,481.1 1000.0,481.8 1001.9,482.5 1003.7,483.2 1005.5,483.9 1007.4,484.6 1009.2,482.1 1011.1,479.5 1012.9,476.9 1014.8,474.4 1016.3,475.1 1017.9,475.8 1019.4,476.5 1020.9,477.2 1022.5,477.9 1024.0,478.6 1025.6,479.2 1027.2,479.8 1028.9,480.3 1030.5,480.9 1032.2,480.9 1033.8,480.9 1035.5,480.9 1037.1,480.9 1038.8,480.9 1040.4,481.5 1042.0,482.1 1043.6,482.7 1045.2,483.3 1046.8,483.9 1048.4,484.5 1050.0,485.1" stroke="#3ADD00" stroke-width="2.5"/>
<polyline points="50.9,461.5 52.8,466.1 55.6,471.2 58.3,469.8 61.1,472.1 63.9,474.4 66.7,470.3 69.4,464.3 72.2,467.0 75.4,464.3 77.8,465.2 80.5,464.3 84.2,471.2 88.9,469.8 94.4,469.8 98.1,470.3 100.9,474.4 102.7,469.8 106.4,465.6 109.2,463.3 114.8,472.1 118.5,472.6 123.1,468.0 126.8,474.0 131.4,472.6 134.2,468.9 137.0,465.6 142.5,468.0 146.2,474.4 150.0,480.0 152.8,472.1 155.6,473.0 158.3,470.7 163.0,477.7 167.6,469.8 169.9,472.6 174.1,463.8 176.8,466.1 179.6,473.5 183.3,471.7 187.9,470.7 193.5,476.3 199.0,474.9 205.5,471.7 210.1,474.4 213.8,464.3 220.3,464.7 224.0,466.6 227.7,461.9 231.4,460.6 233.3,467.0 237.0,465.2 241.6,468.9 245.3,469.8 248.1,468.0 250.0,467.5 252.8,465.2 256.5,466.6 260.2,470.3 263.9,468.9 268.0,466.1 272.2,468.9 276.8,472.1 280.5,471.7 283.8,469.8 287.0,472.6 289.8,474.4 292.6,472.6 295.8,474.4 300.0,471.7 303.2,463.8 306.4,466.1 309.2,472.1 313.8,474.4 316.6,477.7 320.3,477.2 323.1,472.1 327.7,471.2 331.4,468.9 335.1,473.0 338.8,470.7 342.5,474.0 347.1,472.1 350.0,473.5 352.8,473.0 356.9,468.9 360.2,473.5 363.9,474.9 367.6,477.7 372.2,472.6 375.0,467.0 377.8,462.9 380.5,468.9 386.1,476.3 387.9,473.5 391.2,466.1 394.4,471.2 397.2,474.4 402.7,474.0 405.5,472.1 408.3,470.7 411.1,473.0 414.8,469.8 420.3,466.1 424.0,473.5 427.7,474.9 431.9,477.2 435.1,471.7 438.8,468.0 442.5,473.0 447.1,472.6 450.0,473.5 453.7,472.1 457.4,474.0 461.1,473.0 463.9,474.4 467.1,469.8 471.3,474.0 477.8,474.9 482.4,478.6 485.2,474.4 489.8,472.6 492.6,468.0 494.4,462.9 497.2,465.2 502.7,463.8 506.4,467.0 511.1,472.1 515.7,473.5 520.3,474.9 527.7,474.0 533.3,479.1 537.9,478.1 542.5,474.9 546.2,477.2 550.0,476.7 553.7,477.2 557.4,470.7 561.1,464.7 563.4,468.4 566.2,466.1 569.4,467.5 574.1,472.6 579.6,479.1 583.3,473.0 587.9,473.0 593.5,476.7 598.1,469.8 601.8,470.3 604.6,473.5 607.4,468.0 612.9,468.0 616.6,464.3 618.9,460.1 622.2,469.8 624.9,471.7 628.6,467.0 632.3,467.0 635.1,469.8 641.6,472.1 646.2,471.2 650.0,474.4 651.9,474.9 656.0,471.7 659.3,475.8 664.8,475.4 671.7,475.4 674.1,470.7 676.8,472.1 681.5,476.7 686.5,478.6 687.9,474.0 691.6,470.7 696.3,475.4 700.4,474.9 704.6,475.8 709.2,471.7 713.8,474.9 720.3,475.8 726.8,480.4 734.2,479.5 740.7,476.7 744.4,471.7 747.1,472.6 750.0,476.0 753.7,479.5 757.4,483.2 762.5,479.1 766.7,481.4 771.3,480.4 775.9,479.5 778.7,473.0 782.4,468.4 786.5,466.1 788.9,473.0 791.6,474.9 796.3,474.0 800.0,475.4 805.5,480.4 810.1,476.7 814.8,476.3 819.4,478.1 824.0,477.2 828.6,471.7 833.3,474.4 837.0,473.5 840.7,468.0 844.4,468.9 848.1,475.8 850.0,473.0 854.6,472.1 860.2,474.4 863.0,476.7 866.7,471.2 869.4,464.7 871.7,468.9 874.5,476.7 877.8,467.0 881.9,462.4 885.2,467.0 890.7,463.3 893.5,466.1 897.2,472.1 902.7,474.4 905.5,478.1 910.1,478.1 913.8,472.6 920.3,472.1 925.4,469.8 930.5,474.9 934.2,478.6 938.8,472.6 942.5,471.2 946.2,473.5 950.0,480.0 953.7,482.8 957.9,485.5 961.1,478.1 963.9,465.2 967.1,464.3 969.4,468.4 973.1,468.0 976.8,469.8 981.0,465.6 984.2,467.0 988.9,472.1 993.5,472.1 998.1,474.4 1005.5,474.9 1009.2,468.9 1014.8,466.6 1019.4,468.0 1023.1,474.9 1028.6,474.4 1033.3,474.0 1038.8,474.4 1044.4,478.1 1050.0,480.0" stroke="#05DBA0" stroke-width="2.5"/>
<path d="M51,75 L53,75 L53,74 L83,74 L83,73 L149,73 L149,72 L223,72 L223,71 L232,71 L232,70 L242,70 L242,69 L288,69 L288,68 L382,68 L382,67 L492,67 L492,66 L517,66 L517,65 L617,65 L617,64 L667,64 L667,63 L878,63 L878,62 L894,62 L894,61 L985,61 L985,60 L1050,60 " stroke="#0038E8" stroke-width="2.2" stroke-linejoin="miter"/>
<polyline points="51.0,375.4 52.2,377.7 52.5,394.7 53.4,433.3 54.2,449.6 55.5,467.4 56.9,489.4 58.3,499.7 61.0,501.7 64.5,507.9 67.2,507.2 71.3,493.5 73.4,501.0 75.4,493.5 77.5,481.0 78.9,444.0 79.2,442.6 80.9,445.5 82.3,452.3 83.7,481.0 85.0,500.4 87.8,503.0 96.0,503.0 98.8,504.5 102.2,507.2 107.0,497.6 108.4,481.0 110.4,464.0 112.5,467.4 113.8,499.0 118.0,505.8 119.3,507.2 123.4,502.4 126.2,507.2 130.3,509.7 133.0,508.6 138.5,493.5 141.3,488.0 144.0,500.4 148.0,512.0 150.7,516.0 153.5,510.6 159.0,510.0 163.1,512.7 167.2,508.6 171.3,507.9 174.1,494.9 175.4,472.9 176.8,471.5 178.2,478.4 178.9,499.0 181.6,506.5 185.0,507.9 189.2,507.2 193.3,510.0 196.0,512.7 201.5,512.7 207.0,508.6 212.5,507.9 214.5,497.6 215.8,480.0 216.3,464.2 216.8,444.7 217.9,433.9 218.9,433.9 219.4,439.0 220.4,447.8 222.0,455.0 223.3,466.8 224.0,459.0 225.1,450.9 226.1,438.5 227.1,425.1 228.2,400.0 229.2,369.0 230.0,345.0 230.0,296.0 230.9,296.0 230.9,282.3 232.9,282.3 232.9,304.0 233.3,304.0 233.6,405.0 235.0,420.0 236.9,429.0 239.3,437.0 240.5,451.0 241.5,469.0 242.3,478.0 244.0,499.0 246.8,503.8 248.0,501.7 250.7,499.7 252.8,492.0 254.2,462.0 256.2,461.3 257.6,464.7 259.0,475.7 261.0,493.5 263.8,502.4 266.5,499.0 267.9,476.4 269.3,475.7 272.0,483.9 273.4,497.6 276.8,504.5 280.9,507.2 285.0,503.8 289.2,507.9 294.6,509.3 300.1,509.3 302.9,501.7 305.6,485.3 307.0,486.0 308.4,501.7 311.8,505.8 316.6,511.3 320.7,516.0 323.4,512.7 326.9,507.2 331.7,503.8 335.8,506.5 339.9,505.8 344.0,509.3 348.0,507.2 352.1,509.3 357.6,504.5 363.1,511.3 367.2,512.7 372.0,512.0 375.4,501.7 377.5,494.9 378.3,470.0 378.5,444.0 379.5,443.0 379.5,439.0 381.5,439.0 382.0,449.0 383.0,470.2 383.7,497.6 387.1,509.3 389.2,507.2 391.9,498.3 394.6,503.1 398.8,507.2 402.9,510.6 407.0,510.0 409.7,507.9 413.8,507.2 417.3,501.7 419.3,489.4 422.1,486.0 423.4,494.9 424.8,503.1 428.9,508.6 432.4,512.7 435.8,507.2 439.9,501.7 444.0,507.2 448.0,507.2 453.5,508.6 460.3,507.9 464.5,508.6 467.9,506.5 472.7,510.0 479.5,512.7 485.0,516.0 489.2,510.6 492.6,507.2 495.3,492.1 497.4,474.3 499.4,464.0 501.5,462.6 502.8,452.0 503.2,428.0 504.0,426.5 505.5,426.5 506.0,433.0 507.0,445.0 507.7,452.3 509.0,474.3 511.1,490.8 513.8,505.8 518.0,507.9 524.8,510.6 530.3,512.0 533.0,516.0 544.0,516.0 548.0,516.0 555.5,516.0 558.3,505.8 561.0,494.9 563.1,486.0 565.8,477.7 567.9,477.0 570.0,482.5 572.0,500.4 575.4,505.8 578.9,512.0 583.7,512.7 589.2,510.6 594.6,512.7 597.4,512.0 599.4,505.8 601.5,504.5 604.9,507.9 608.4,502.4 611.8,496.9 613.8,499.0 615.2,483.9 615.9,462.6 617.3,437.0 618.0,437.0 618.3,390.0 619.0,381.3 620.0,381.3 620.3,404.0 621.0,404.0 621.5,440.0 622.5,465.0 623.4,486.6 626.9,500.4 628.9,497.6 631.0,485.3 632.4,486.6 634.4,500.4 638.5,503.1 644.0,504.5 648.0,507.2 652.1,510.0 656.2,508.6 661.7,512.0 665.8,512.7 672.0,512.7 674.7,509.3 677.5,509.3 682.3,512.7 687.8,512.7 691.9,508.6 695.3,508.6 698.8,511.3 704.2,512.0 709.7,510.0 715.2,510.6 719.3,512.7 723.4,516.0 742.6,516.0 745.4,508.6 748.0,508.6 752.8,516.0 756.2,516.0 775.4,516.0 778.9,511.3 782.3,505.8 785.0,497.6 787.1,496.2 788.5,503.1 791.9,507.2 796.7,508.6 801.5,511.3 803.6,516.0 811.1,516.0 813.8,512.7 818.0,512.7 820.7,516.0 826.9,516.0 830.3,510.6 834.4,510.0 837.8,510.0 842.6,502.4 845.4,503.1 848.0,508.6 854.9,507.9 861.7,512.0 865.8,507.9 868.6,499.0 870.0,484.6 872.0,485.3 873.4,505.8 875.4,507.9 877.5,503.1 878.9,481.2 880.2,453.7 881.0,425.0 882.0,424.5 882.0,418.5 883.5,418.5 884.0,434.5 885.0,434.5 885.0,446.0 885.5,453.7 887.1,474.3 889.2,467.4 890.5,440.0 891.0,436.5 892.7,436.5 893.3,440.0 895.3,464.7 897.4,483.9 898.8,500.4 902.9,510.0 908.4,512.7 913.2,512.7 916.6,508.6 920.7,507.9 923.4,509.3 926.9,505.8 930.3,509.3 935.1,512.7 938.5,509.3 942.6,506.5 948.0,511.3 951.4,516.0 964.5,516.0 966.5,504.5 968.6,495.6 972.0,494.9 974.1,488.7 975.4,490.0 977.5,501.7 979.5,497.6 981.6,481.2 983.0,462.0 984.4,458.5 986.4,462.6 987.8,468.8 988.5,492.1 989.8,503.1 994.6,506.5 998.8,508.6 1002.9,511.3 1007.7,511.3 1009.0,507.2 1012.5,497.6 1013.8,481.2 1015.9,480.5 1017.3,479.8 1018.6,472.2 1020.0,475.7 1021.4,486.6 1022.8,503.1 1026.2,507.9 1031.7,510.6 1037.2,510.0 1041.3,510.6 1044.0,512.7 1049.5,516.0" stroke="#0505B5" stroke-width="2.5"/>
<rect x="51" y="512" width="4" height="2" fill="#AA00DD" stroke="none"/>
<rect x="227" y="512" width="10" height="1" fill="#AA00DD" stroke="none"/>
<rect x="229" y="510" width="5" height="2" fill="#AA00DD" stroke="none"/>
<rect x="380" y="513" width="6" height="1" fill="#AA00DD" stroke="none"/>
<rect x="617" y="512" width="7" height="1" fill="#AA00DD" stroke="none"/>
<rect x="881" y="513" width="5" height="1" fill="#AA00DD" stroke="none"/>
<rect x="982" y="513" width="6" height="1" fill="#AA00DD" stroke="none"/>
<rect x="51" y="514" width="999" height="1" fill="#DD00AA" stroke="none"/>
</g>
<rect x="50" y="13" width="1" height="506" fill="#5A5A5A"/>
<rect x="46" y="515" width="1008" height="1" fill="#5A5A5A"/>
<polygon shape-rendering="geometricPrecision" points="47.5,13 53.5,13 50.5,8" fill="#801F1F"/>
<polygon shape-rendering="geometricPrecision" points="1053,512.5 1053,518.5 1058,515.5" fill="#801F1F"/>
<g filter="url(#gray)">
<text transform="translate(14,519) scale(1,1.08)" font-family="Liberation Mono, monospace" font-size="10px" fill="#000">0,0</text>
<text transform="translate(14,494) scale(1,1.08)" font-family="Liberation Mono, monospace" font-size="10px" fill="#000">0,1 k</text>
<text transform="translate(14,469) scale(1,1.08)" font-family="Liberation Mono, monospace" font-size="10px" fill="#000">0,2 k</text>
<text transform="translate(14,444) scale(1,1.08)" font-family="Liberation Mono, monospace" font-size="10px" fill="#000">0,3 k</text>
<text transform="translate(14,419) scale(1,1.08)" font-family="Liberation Mono, monospace" font-size="10px" fill="#000">0,4 k</text>
<text transform="translate(14,394) scale(1,1.08)" font-family="Liberation Mono, monospace" font-size="10px" fill="#000">0,5 k</text>
<text transform="translate(14,369) scale(1,1.08)" font-family="Liberation Mono, monospace" font-size="10px" fill="#000">0,6 k</text>
<text transform="translate(14,344) scale(1,1.08)" font-family="Liberation Mono, monospace" font-size="10px" fill="#000">0,7 k</text>
<text transform="translate(14,319) scale(1,1.08)" font-family="Liberation Mono, monospace" font-size="10px" fill="#000">0,8 k</text>
<text transform="translate(14,294) scale(1,1.08)" font-family="Liberation Mono, monospace" font-size="10px" fill="#000">0,9 k</text>
<text transform="translate(14,269) scale(1,1.08)" font-family="Liberation Mono, monospace" font-size="10px" fill="#000">1,0 k</text>
<text transform="translate(14,244) scale(1,1.08)" font-family="Liberation Mono, monospace" font-size="10px" fill="#000">1,1 k</text>
<text transform="translate(14,219) scale(1,1.08)" font-family="Liberation Mono, monospace" font-size="10px" fill="#000">1,2 k</text>
<text transform="translate(14,194) scale(1,1.08)" font-family="Liberation Mono, monospace" font-size="10px" fill="#000">1,3 k</text>
<text transform="translate(14,169) scale(1,1.08)" font-family="Liberation Mono, monospace" font-size="10px" fill="#000">1,4 k</text>
<text transform="translate(14,144) scale(1,1.08)" font-family="Liberation Mono, monospace" font-size="10px" fill="#000">1,5 k</text>
<text transform="translate(14,119) scale(1,1.08)" font-family="Liberation Mono, monospace" font-size="10px" fill="#000">1,6 k</text>
<text transform="translate(14,94) scale(1,1.08)" font-family="Liberation Mono, monospace" font-size="10px" fill="#000">1,7 k</text>
<text transform="translate(14,69) scale(1,1.08)" font-family="Liberation Mono, monospace" font-size="10px" fill="#000">1,8 k</text>
<text transform="translate(14,44) scale(1,1.08)" font-family="Liberation Mono, monospace" font-size="10px" fill="#000">1,9 k</text>
<text transform="translate(14,19) scale(1,1.08)" font-family="Liberation Mono, monospace" font-size="10px" fill="#000">2,0 k</text>
<text transform="translate(134,527) scale(1,1.08)" font-family="Liberation Mono, monospace" font-size="10px" text-anchor="middle" fill="#000">14:05</text>
<text transform="translate(217,527) scale(1,1.08)" font-family="Liberation Mono, monospace" font-size="10px" text-anchor="middle" fill="#000">14:10</text>
<text transform="translate(300,527) scale(1,1.08)" font-family="Liberation Mono, monospace" font-size="10px" text-anchor="middle" fill="#000">14:15</text>
<text transform="translate(384,527) scale(1,1.08)" font-family="Liberation Mono, monospace" font-size="10px" text-anchor="middle" fill="#000">14:20</text>
<text transform="translate(467,527) scale(1,1.08)" font-family="Liberation Mono, monospace" font-size="10px" text-anchor="middle" fill="#000">14:25</text>
<text transform="translate(550,527) scale(1,1.08)" font-family="Liberation Mono, monospace" font-size="10px" text-anchor="middle" fill="#000">14:30</text>
<text transform="translate(634,527) scale(1,1.08)" font-family="Liberation Mono, monospace" font-size="10px" text-anchor="middle" fill="#000">14:35</text>
<text transform="translate(717,527) scale(1,1.08)" font-family="Liberation Mono, monospace" font-size="10px" text-anchor="middle" fill="#000">14:40</text>
<text transform="translate(800,527) scale(1,1.08)" font-family="Liberation Mono, monospace" font-size="10px" text-anchor="middle" fill="#000">14:45</text>
<text transform="translate(884,527) scale(1,1.08)" font-family="Liberation Mono, monospace" font-size="10px" text-anchor="middle" fill="#000">14:50</text>
<text transform="translate(967,527) scale(1,1.08)" font-family="Liberation Mono, monospace" font-size="10px" text-anchor="middle" fill="#000">14:55</text>
<text transform="translate(1050,527) scale(1,1.08)" font-family="Liberation Mono, monospace" font-size="10px" text-anchor="middle" fill="#000">15:00</text>
<text transform="translate(30.5,545) scale(1,1.07)" font-family="Liberation Mono, monospace" font-size="11.67px" fill="#000">Windspeed AVG</text>
<text transform="translate(161.5,545) scale(1,1.07)" font-family="Liberation Mono, monospace" font-size="11.67px" fill="#000">error_number AVG</text>
<text transform="translate(312.5,545) scale(1,1.07)" font-family="Liberation Mono, monospace" font-size="11.67px" fill="#000">rotor speed 1 AVG</text>
<text transform="translate(471.5,545) scale(1,1.07)" font-family="Liberation Mono, monospace" font-size="11.67px" fill="#000">rotor speed 2 AVG</text>
<text transform="translate(629.5,545) scale(1,1.07)" font-family="Liberation Mono, monospace" font-size="11.67px" fill="#000">rotor speed 3 AVG</text>
<text transform="translate(788.5,545) scale(1,1.07)" font-family="Liberation Mono, monospace" font-size="11.67px" fill="#000">rotor speed 4 AVG</text>
<text transform="translate(946.5,545) scale(1,1.07)" font-family="Liberation Mono, monospace" font-size="11.67px" fill="#000">rotor speed 5 AVG</text>
<text transform="translate(30.5,559) scale(1,1.07)" font-family="Liberation Mono, monospace" font-size="11.67px" fill="#000">Current AVG</text>
<text transform="translate(145.5,559) scale(1,1.07)" font-family="Liberation Mono, monospace" font-size="11.67px" fill="#000">voltage AVG</text>
<text transform="translate(261.5,559) scale(1,1.07)" font-family="Liberation Mono, monospace" font-size="11.67px" fill="#000">total_energy AVG</text>
<text transform="translate(411.5,559) scale(1,1.07)" font-family="Liberation Mono, monospace" font-size="11.67px" fill="#000">power_calculated AVG</text>
<text transform="translate(590.5,559) scale(1,1.07)" font-family="Liberation Mono, monospace" font-size="11.67px" fill="#000">autostart_number AVG</text>
<text transform="translate(768.5,559) scale(1,1.07)" font-family="Liberation Mono, monospace" font-size="11.67px" fill="#000">pwm_setpoint AVG</text>
<text transform="translate(918.5,559) scale(1,1.07)" font-family="Liberation Mono, monospace" font-size="11.67px" fill="#000">main_state_number AVG</text>
<text transform="translate(30.5,573) scale(1,1.07)" font-family="Liberation Mono, monospace" font-size="11.67px" fill="#000">error_number AVG</text>
<text transform="translate(1070,5.5) rotate(90) scale(1,1.2)" font-family="Liberation Mono, monospace" font-size="8.33px" fill="#999999">RRDTOOL / TOBI OETIKER</text>
</g>
<rect x="15.5" y="536.5" width="8" height="9" fill="#DD3F00" stroke="#000" stroke-width="1"/>
<rect x="146.5" y="536.5" width="8" height="9" fill="#DA7000" stroke="#000" stroke-width="1"/>
<rect x="297.5" y="536.5" width="8" height="9" fill="#D9A400" stroke="#000" stroke-width="1"/>
<rect x="456.5" y="536.5" width="8" height="9" fill="#DADA00" stroke="#000" stroke-width="1"/>
<rect x="614.5" y="536.5" width="8" height="9" fill="#A2DD00" stroke="#000" stroke-width="1"/>
<rect x="773.5" y="536.5" width="8" height="9" fill="#70DD00" stroke="#000" stroke-width="1"/>
<rect x="931.5" y="536.5" width="8" height="9" fill="#3ADD00" stroke="#000" stroke-width="1"/>
<rect x="15.5" y="550.5" width="8" height="9" fill="#00DD33" stroke="#000" stroke-width="1"/>
<rect x="130.5" y="550.5" width="8" height="9" fill="#05DBA0" stroke="#000" stroke-width="1"/>
<rect x="246.5" y="550.5" width="8" height="9" fill="#0040FF" stroke="#000" stroke-width="1"/>
<rect x="396.5" y="550.5" width="8" height="9" fill="#0505B5" stroke="#000" stroke-width="1"/>
<rect x="575.5" y="550.5" width="8" height="9" fill="#3A00E0" stroke="#000" stroke-width="1"/>
<rect x="753.5" y="550.5" width="8" height="9" fill="#AA00DD" stroke="#000" stroke-width="1"/>
<rect x="903.5" y="550.5" width="8" height="9" fill="#DD00AA" stroke="#000" stroke-width="1"/>
<rect x="15.5" y="564.5" width="8" height="9" fill="#555555" stroke="#000" stroke-width="1"/>
</svg>
</body></html>
